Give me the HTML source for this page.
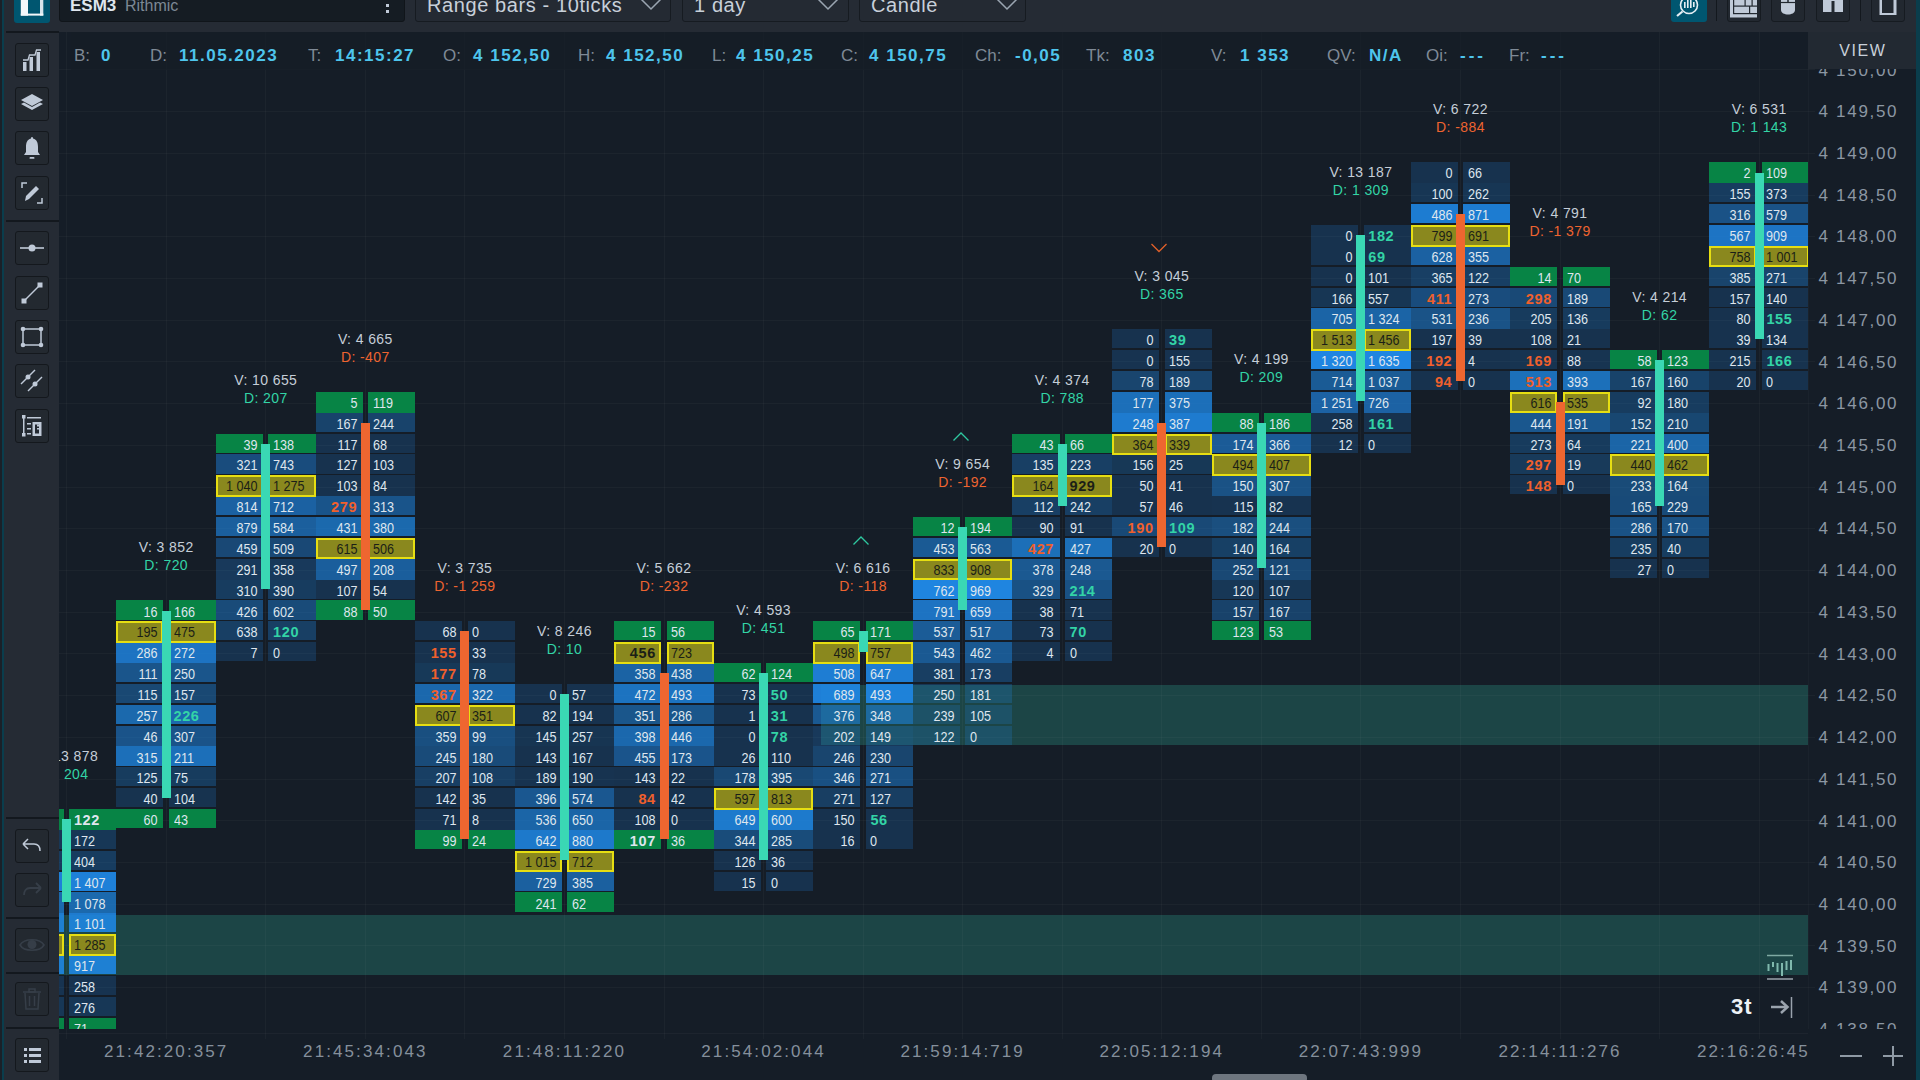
<!DOCTYPE html>
<html><head><meta charset="utf-8">
<style>
html,body{margin:0;padding:0;width:1920px;height:1080px;overflow:hidden;background:#252b34;font-family:"Liberation Sans",sans-serif;}
.abs{position:absolute}
#chart{position:absolute;left:59px;top:32px;width:1749px;height:997px;background:#151d27;overflow:hidden}
.a{position:absolute}
.tl,.tr{position:absolute;font-size:14.5px;line-height:20px;height:20px;white-space:nowrap;transform:scaleX(0.87)}
.tl{transform-origin:100% 50%}
.tr{transform-origin:0 50%}
.tl{text-align:right}
.tl.b,.tr.b{font-weight:bold;transform:none;letter-spacing:0.6px}
.hd{position:absolute;width:120px;text-align:center;font-size:14px;line-height:18px;color:#c5ced8;white-space:nowrap;letter-spacing:0.4px}
.il,.iv{position:absolute;top:45.5px;font-size:17px;line-height:20px;white-space:nowrap}
.il{color:#7f8a96}
.iv{color:#4ec5ec;font-weight:bold;letter-spacing:1.5px}
.pl{position:absolute;left:10.5px;font-size:17px;line-height:20px;color:#8c97a3;letter-spacing:1.7px;white-space:nowrap}
#paxis{position:absolute;left:1808px;top:32px;width:108px;height:997px;background:#151d27;overflow:hidden}
#taxis{position:absolute;left:59px;top:1029px;width:1749px;height:51px;background:#151d27;overflow:hidden}
.tm{position:absolute;top:12.8px;width:160px;text-align:center;font-size:17px;line-height:20px;color:#85909c;letter-spacing:2.1px;white-space:nowrap}
.btn{position:absolute;left:15px;width:34px;height:34px;box-sizing:border-box;border:1.5px solid #14181d;border-radius:3px;background:#232930}
</style></head><body>
<div class="abs" style="left:0;top:0;width:2px;height:1080px;background:#1a2028"></div>
<div class="abs" style="left:2px;top:0;width:2px;height:1080px;background:#0a3d4c"></div>
<div class="abs" style="left:1916px;top:0;width:4px;height:1080px;background:#0a3d4c"></div>
<div id="chart">
<div class="a" style="left:762.00px;top:652.80px;width:987.00px;height:60.70px;background:#1c4546"></div>
<div class="a" style="left:0.00px;top:882.50px;width:1749.00px;height:60.50px;background:#1c4546"></div>
<div class="a" style="left:7.14px;top:0.00px;width:1.00px;height:1006.00px;background:rgba(255,255,255,0.03)"></div>
<div class="a" style="left:106.70px;top:0.00px;width:1.00px;height:1006.00px;background:rgba(255,255,255,0.03)"></div>
<div class="a" style="left:206.26px;top:0.00px;width:1.00px;height:1006.00px;background:rgba(255,255,255,0.03)"></div>
<div class="a" style="left:305.82px;top:0.00px;width:1.00px;height:1006.00px;background:rgba(255,255,255,0.03)"></div>
<div class="a" style="left:405.38px;top:0.00px;width:1.00px;height:1006.00px;background:rgba(255,255,255,0.03)"></div>
<div class="a" style="left:504.94px;top:0.00px;width:1.00px;height:1006.00px;background:rgba(255,255,255,0.03)"></div>
<div class="a" style="left:604.50px;top:0.00px;width:1.00px;height:1006.00px;background:rgba(255,255,255,0.03)"></div>
<div class="a" style="left:704.06px;top:0.00px;width:1.00px;height:1006.00px;background:rgba(255,255,255,0.03)"></div>
<div class="a" style="left:803.62px;top:0.00px;width:1.00px;height:1006.00px;background:rgba(255,255,255,0.03)"></div>
<div class="a" style="left:903.18px;top:0.00px;width:1.00px;height:1006.00px;background:rgba(255,255,255,0.03)"></div>
<div class="a" style="left:1002.74px;top:0.00px;width:1.00px;height:1006.00px;background:rgba(255,255,255,0.03)"></div>
<div class="a" style="left:1102.30px;top:0.00px;width:1.00px;height:1006.00px;background:rgba(255,255,255,0.03)"></div>
<div class="a" style="left:1201.86px;top:0.00px;width:1.00px;height:1006.00px;background:rgba(255,255,255,0.03)"></div>
<div class="a" style="left:1301.42px;top:0.00px;width:1.00px;height:1006.00px;background:rgba(255,255,255,0.03)"></div>
<div class="a" style="left:1400.98px;top:0.00px;width:1.00px;height:1006.00px;background:rgba(255,255,255,0.03)"></div>
<div class="a" style="left:1500.54px;top:0.00px;width:1.00px;height:1006.00px;background:rgba(255,255,255,0.03)"></div>
<div class="a" style="left:1600.10px;top:0.00px;width:1.00px;height:1006.00px;background:rgba(255,255,255,0.03)"></div>
<div class="a" style="left:1699.66px;top:0.00px;width:1.00px;height:1006.00px;background:rgba(255,255,255,0.03)"></div>
<div class="a" style="left:0.00px;top:37.35px;width:1756.00px;height:1.00px;background:rgba(255,255,255,0.03)"></div>
<div class="a" style="left:0.00px;top:79.07px;width:1756.00px;height:1.00px;background:rgba(255,255,255,0.03)"></div>
<div class="a" style="left:0.00px;top:120.79px;width:1756.00px;height:1.00px;background:rgba(255,255,255,0.03)"></div>
<div class="a" style="left:0.00px;top:162.51px;width:1756.00px;height:1.00px;background:rgba(255,255,255,0.03)"></div>
<div class="a" style="left:0.00px;top:204.23px;width:1756.00px;height:1.00px;background:rgba(255,255,255,0.03)"></div>
<div class="a" style="left:0.00px;top:245.95px;width:1756.00px;height:1.00px;background:rgba(255,255,255,0.03)"></div>
<div class="a" style="left:0.00px;top:287.67px;width:1756.00px;height:1.00px;background:rgba(255,255,255,0.03)"></div>
<div class="a" style="left:0.00px;top:329.39px;width:1756.00px;height:1.00px;background:rgba(255,255,255,0.03)"></div>
<div class="a" style="left:0.00px;top:371.11px;width:1756.00px;height:1.00px;background:rgba(255,255,255,0.03)"></div>
<div class="a" style="left:0.00px;top:412.83px;width:1756.00px;height:1.00px;background:rgba(255,255,255,0.03)"></div>
<div class="a" style="left:0.00px;top:454.55px;width:1756.00px;height:1.00px;background:rgba(255,255,255,0.03)"></div>
<div class="a" style="left:0.00px;top:496.27px;width:1756.00px;height:1.00px;background:rgba(255,255,255,0.03)"></div>
<div class="a" style="left:0.00px;top:537.99px;width:1756.00px;height:1.00px;background:rgba(255,255,255,0.03)"></div>
<div class="a" style="left:0.00px;top:579.71px;width:1756.00px;height:1.00px;background:rgba(255,255,255,0.03)"></div>
<div class="a" style="left:0.00px;top:621.43px;width:1756.00px;height:1.00px;background:rgba(255,255,255,0.03)"></div>
<div class="a" style="left:0.00px;top:663.15px;width:1756.00px;height:1.00px;background:rgba(255,255,255,0.03)"></div>
<div class="a" style="left:0.00px;top:704.87px;width:1756.00px;height:1.00px;background:rgba(255,255,255,0.03)"></div>
<div class="a" style="left:0.00px;top:746.59px;width:1756.00px;height:1.00px;background:rgba(255,255,255,0.03)"></div>
<div class="a" style="left:0.00px;top:788.31px;width:1756.00px;height:1.00px;background:rgba(255,255,255,0.03)"></div>
<div class="a" style="left:0.00px;top:830.03px;width:1756.00px;height:1.00px;background:rgba(255,255,255,0.03)"></div>
<div class="a" style="left:0.00px;top:871.75px;width:1756.00px;height:1.00px;background:rgba(255,255,255,0.03)"></div>
<div class="a" style="left:0.00px;top:913.47px;width:1756.00px;height:1.00px;background:rgba(255,255,255,0.03)"></div>
<div class="a" style="left:0.00px;top:955.19px;width:1756.00px;height:1.00px;background:rgba(255,255,255,0.03)"></div>
<div class="a" style="left:0.00px;top:996.91px;width:1756.00px;height:1.00px;background:rgba(255,255,255,0.03)"></div>
<div class="a" style="left:12.00px;top:0.00px;width:1519.00px;height:37.60px;background:rgba(21,29,39,0.75)"></div>
<div class="a" style="left:-42.14px;top:777.01px;width:47.08px;height:20.86px;background:#078445"></div>
<div class="a" style="left:10.34px;top:777.01px;width:47.08px;height:20.86px;background:#078445"></div>
<div class="a" style="left:-42.14px;top:797.87px;width:47.08px;height:19.20px;background:rgba(31,134,226,0.250)"></div>
<div class="a" style="left:10.34px;top:797.87px;width:47.08px;height:19.20px;background:rgba(31,134,226,0.250)"></div>
<div class="a" style="left:-42.14px;top:818.73px;width:47.08px;height:19.20px;background:rgba(31,134,226,0.300)"></div>
<div class="a" style="left:10.34px;top:818.73px;width:47.08px;height:19.20px;background:rgba(31,134,226,0.300)"></div>
<div class="a" style="left:-42.14px;top:839.59px;width:47.08px;height:19.20px;background:rgba(31,134,226,0.950)"></div>
<div class="a" style="left:10.34px;top:839.59px;width:47.08px;height:19.20px;background:rgba(31,134,226,0.950)"></div>
<div class="a" style="left:-42.14px;top:860.45px;width:47.08px;height:20.86px;background:rgba(31,134,226,0.720)"></div>
<div class="a" style="left:10.34px;top:860.45px;width:47.08px;height:20.86px;background:rgba(31,134,226,0.720)"></div>
<div class="a" style="left:-42.14px;top:881.31px;width:47.08px;height:19.20px;background:rgba(31,134,226,0.900)"></div>
<div class="a" style="left:10.34px;top:881.31px;width:47.08px;height:19.20px;background:rgba(31,134,226,0.900)"></div>
<div class="a" style="left:-42.14px;top:923.03px;width:47.08px;height:19.20px;background:rgba(31,134,226,0.900)"></div>
<div class="a" style="left:10.34px;top:923.03px;width:47.08px;height:19.20px;background:rgba(31,134,226,0.900)"></div>
<div class="a" style="left:-42.14px;top:943.89px;width:47.08px;height:19.20px;background:rgba(31,134,226,0.220)"></div>
<div class="a" style="left:10.34px;top:943.89px;width:47.08px;height:19.20px;background:rgba(31,134,226,0.220)"></div>
<div class="a" style="left:-42.14px;top:964.75px;width:47.08px;height:19.20px;background:rgba(31,134,226,0.250)"></div>
<div class="a" style="left:10.34px;top:964.75px;width:47.08px;height:19.20px;background:rgba(31,134,226,0.250)"></div>
<div class="a" style="left:-42.14px;top:985.61px;width:47.08px;height:19.20px;background:#078445"></div>
<div class="a" style="left:10.34px;top:985.61px;width:47.08px;height:19.20px;background:#078445"></div>
<div class="a" style="left:-42.14px;top:902.17px;width:47.08px;height:21.60px;background:#8a881e;border:2px solid #e6de12;box-sizing:border-box"></div>
<div class="a" style="left:10.34px;top:902.17px;width:47.08px;height:21.60px;background:#8a881e;border:2px solid #e6de12;box-sizing:border-box"></div>
<div class="a" style="left:3.14px;top:787.21px;width:9.00px;height:82.84px;background:#3ad8b4"></div>
<div class="tr b" style="left:14.94px;top:778.11px;color:#dfe6ee">122</div>
<div class="tr " style="left:14.94px;top:798.97px;color:#dfe6ee">172</div>
<div class="tr " style="left:14.94px;top:819.83px;color:#dfe6ee">404</div>
<div class="tr " style="left:14.94px;top:840.69px;color:#dfe6ee">1 407</div>
<div class="tr " style="left:14.94px;top:861.55px;color:#dfe6ee">1 078</div>
<div class="tr " style="left:14.94px;top:882.41px;color:#dfe6ee">1 101</div>
<div class="tr " style="left:14.94px;top:903.27px;color:#1b1f17">1 285</div>
<div class="tr " style="left:14.94px;top:924.13px;color:#dfe6ee">917</div>
<div class="tr " style="left:14.94px;top:944.99px;color:#dfe6ee">258</div>
<div class="tr " style="left:14.94px;top:965.85px;color:#dfe6ee">276</div>
<div class="tr " style="left:14.94px;top:986.71px;color:#dfe6ee">71</div>
<div class="hd" style="left:-52.36px;top:714.81px">V: 13 878</div>
<div class="hd" style="left:-52.36px;top:732.81px;color:#33d4a6">D: 204</div>
<div class="a" style="left:57.42px;top:568.41px;width:47.08px;height:19.20px;background:#078445"></div>
<div class="a" style="left:109.90px;top:568.41px;width:47.08px;height:19.20px;background:#078445"></div>
<div class="a" style="left:57.42px;top:610.13px;width:47.08px;height:20.86px;background:rgba(31,134,226,0.833)"></div>
<div class="a" style="left:109.90px;top:610.13px;width:47.08px;height:20.86px;background:rgba(31,134,226,0.833)"></div>
<div class="a" style="left:57.42px;top:630.99px;width:47.08px;height:19.20px;background:rgba(31,134,226,0.539)"></div>
<div class="a" style="left:109.90px;top:630.99px;width:47.08px;height:19.20px;background:rgba(31,134,226,0.539)"></div>
<div class="a" style="left:57.42px;top:651.85px;width:47.08px;height:19.20px;background:rgba(31,134,226,0.406)"></div>
<div class="a" style="left:109.90px;top:651.85px;width:47.08px;height:19.20px;background:rgba(31,134,226,0.406)"></div>
<div class="a" style="left:57.42px;top:672.71px;width:47.08px;height:19.20px;background:rgba(31,134,226,0.721)"></div>
<div class="a" style="left:109.90px;top:672.71px;width:47.08px;height:19.20px;background:rgba(31,134,226,0.721)"></div>
<div class="a" style="left:57.42px;top:693.57px;width:47.08px;height:20.86px;background:rgba(31,134,226,0.527)"></div>
<div class="a" style="left:109.90px;top:693.57px;width:47.08px;height:20.86px;background:rgba(31,134,226,0.527)"></div>
<div class="a" style="left:57.42px;top:714.43px;width:47.08px;height:19.20px;background:rgba(31,134,226,0.785)"></div>
<div class="a" style="left:109.90px;top:714.43px;width:47.08px;height:19.20px;background:rgba(31,134,226,0.785)"></div>
<div class="a" style="left:57.42px;top:735.29px;width:47.08px;height:19.20px;background:rgba(31,134,226,0.299)"></div>
<div class="a" style="left:109.90px;top:735.29px;width:47.08px;height:19.20px;background:rgba(31,134,226,0.299)"></div>
<div class="a" style="left:57.42px;top:756.15px;width:47.08px;height:19.20px;background:rgba(31,134,226,0.215)"></div>
<div class="a" style="left:109.90px;top:756.15px;width:47.08px;height:19.20px;background:rgba(31,134,226,0.215)"></div>
<div class="a" style="left:57.42px;top:777.01px;width:47.08px;height:19.20px;background:#078445"></div>
<div class="a" style="left:109.90px;top:777.01px;width:47.08px;height:19.20px;background:#078445"></div>
<div class="a" style="left:57.42px;top:589.27px;width:47.08px;height:21.60px;background:#8a881e;border:2px solid #e6de12;box-sizing:border-box"></div>
<div class="a" style="left:109.90px;top:589.27px;width:47.08px;height:21.60px;background:#8a881e;border:2px solid #e6de12;box-sizing:border-box"></div>
<div class="a" style="left:102.70px;top:578.61px;width:9.00px;height:187.14px;background:#3ad8b4"></div>
<div class="tl " style="left:57.42px;width:41.58px;top:569.51px;color:#dfe6ee">16</div>
<div class="tr " style="left:114.50px;top:569.51px;color:#dfe6ee">166</div>
<div class="tl " style="left:57.42px;width:41.58px;top:590.37px;color:#1b1f17">195</div>
<div class="tr " style="left:114.50px;top:590.37px;color:#1b1f17">475</div>
<div class="tl " style="left:57.42px;width:41.58px;top:611.23px;color:#dfe6ee">286</div>
<div class="tr " style="left:114.50px;top:611.23px;color:#dfe6ee">272</div>
<div class="tl " style="left:57.42px;width:41.58px;top:632.09px;color:#dfe6ee">111</div>
<div class="tr " style="left:114.50px;top:632.09px;color:#dfe6ee">250</div>
<div class="tl " style="left:57.42px;width:41.58px;top:652.95px;color:#dfe6ee">115</div>
<div class="tr " style="left:114.50px;top:652.95px;color:#dfe6ee">157</div>
<div class="tl " style="left:57.42px;width:41.58px;top:673.81px;color:#dfe6ee">257</div>
<div class="tr b" style="left:114.50px;top:673.81px;color:#33d4a6">226</div>
<div class="tl " style="left:57.42px;width:41.58px;top:694.67px;color:#dfe6ee">46</div>
<div class="tr " style="left:114.50px;top:694.67px;color:#dfe6ee">307</div>
<div class="tl " style="left:57.42px;width:41.58px;top:715.53px;color:#dfe6ee">315</div>
<div class="tr " style="left:114.50px;top:715.53px;color:#dfe6ee">211</div>
<div class="tl " style="left:57.42px;width:41.58px;top:736.39px;color:#dfe6ee">125</div>
<div class="tr " style="left:114.50px;top:736.39px;color:#dfe6ee">75</div>
<div class="tl " style="left:57.42px;width:41.58px;top:757.25px;color:#dfe6ee">40</div>
<div class="tr " style="left:114.50px;top:757.25px;color:#dfe6ee">104</div>
<div class="tl " style="left:57.42px;width:41.58px;top:778.11px;color:#dfe6ee">60</div>
<div class="tr " style="left:114.50px;top:778.11px;color:#dfe6ee">43</div>
<div class="hd" style="left:47.20px;top:506.21px">V: 3 852</div>
<div class="hd" style="left:47.20px;top:524.21px;color:#33d4a6">D: 720</div>
<div class="a" style="left:156.98px;top:401.53px;width:47.08px;height:19.20px;background:#078445"></div>
<div class="a" style="left:209.46px;top:401.53px;width:47.08px;height:19.20px;background:#078445"></div>
<div class="a" style="left:156.98px;top:422.39px;width:47.08px;height:19.20px;background:rgba(31,134,226,0.460)"></div>
<div class="a" style="left:209.46px;top:422.39px;width:47.08px;height:19.20px;background:rgba(31,134,226,0.460)"></div>
<div class="a" style="left:156.98px;top:464.11px;width:47.08px;height:19.20px;background:rgba(31,134,226,0.659)"></div>
<div class="a" style="left:209.46px;top:464.11px;width:47.08px;height:19.20px;background:rgba(31,134,226,0.659)"></div>
<div class="a" style="left:156.98px;top:484.97px;width:47.08px;height:19.20px;background:rgba(31,134,226,0.632)"></div>
<div class="a" style="left:209.46px;top:484.97px;width:47.08px;height:19.20px;background:rgba(31,134,226,0.632)"></div>
<div class="a" style="left:156.98px;top:505.83px;width:47.08px;height:19.20px;background:rgba(31,134,226,0.418)"></div>
<div class="a" style="left:209.46px;top:505.83px;width:47.08px;height:19.20px;background:rgba(31,134,226,0.418)"></div>
<div class="a" style="left:156.98px;top:526.69px;width:47.08px;height:20.86px;background:rgba(31,134,226,0.280)"></div>
<div class="a" style="left:209.46px;top:526.69px;width:47.08px;height:20.86px;background:rgba(31,134,226,0.280)"></div>
<div class="a" style="left:156.98px;top:547.55px;width:47.08px;height:19.20px;background:rgba(31,134,226,0.302)"></div>
<div class="a" style="left:209.46px;top:547.55px;width:47.08px;height:19.20px;background:rgba(31,134,226,0.302)"></div>
<div class="a" style="left:156.98px;top:568.41px;width:47.08px;height:19.20px;background:rgba(31,134,226,0.444)"></div>
<div class="a" style="left:209.46px;top:568.41px;width:47.08px;height:19.20px;background:rgba(31,134,226,0.444)"></div>
<div class="a" style="left:156.98px;top:589.27px;width:47.08px;height:19.20px;background:rgba(31,134,226,0.327)"></div>
<div class="a" style="left:209.46px;top:589.27px;width:47.08px;height:19.20px;background:rgba(31,134,226,0.327)"></div>
<div class="a" style="left:156.98px;top:610.13px;width:47.08px;height:19.20px;background:rgba(31,134,226,0.210)"></div>
<div class="a" style="left:209.46px;top:610.13px;width:47.08px;height:19.20px;background:rgba(31,134,226,0.210)"></div>
<div class="a" style="left:156.98px;top:443.25px;width:47.08px;height:21.60px;background:#8a881e;border:2px solid #e6de12;box-sizing:border-box"></div>
<div class="a" style="left:209.46px;top:443.25px;width:47.08px;height:21.60px;background:#8a881e;border:2px solid #e6de12;box-sizing:border-box"></div>
<div class="a" style="left:202.26px;top:411.73px;width:9.00px;height:145.42px;background:#3ad8b4"></div>
<div class="tl " style="left:156.98px;width:41.58px;top:402.63px;color:#dfe6ee">39</div>
<div class="tr " style="left:214.06px;top:402.63px;color:#dfe6ee">138</div>
<div class="tl " style="left:156.98px;width:41.58px;top:423.49px;color:#dfe6ee">321</div>
<div class="tr " style="left:214.06px;top:423.49px;color:#dfe6ee">743</div>
<div class="tl " style="left:156.98px;width:41.58px;top:444.35px;color:#1b1f17">1 040</div>
<div class="tr " style="left:214.06px;top:444.35px;color:#1b1f17">1 275</div>
<div class="tl " style="left:156.98px;width:41.58px;top:465.21px;color:#dfe6ee">814</div>
<div class="tr " style="left:214.06px;top:465.21px;color:#dfe6ee">712</div>
<div class="tl " style="left:156.98px;width:41.58px;top:486.07px;color:#dfe6ee">879</div>
<div class="tr " style="left:214.06px;top:486.07px;color:#dfe6ee">584</div>
<div class="tl " style="left:156.98px;width:41.58px;top:506.93px;color:#dfe6ee">459</div>
<div class="tr " style="left:214.06px;top:506.93px;color:#dfe6ee">509</div>
<div class="tl " style="left:156.98px;width:41.58px;top:527.79px;color:#dfe6ee">291</div>
<div class="tr " style="left:214.06px;top:527.79px;color:#dfe6ee">358</div>
<div class="tl " style="left:156.98px;width:41.58px;top:548.65px;color:#dfe6ee">310</div>
<div class="tr " style="left:214.06px;top:548.65px;color:#dfe6ee">390</div>
<div class="tl " style="left:156.98px;width:41.58px;top:569.51px;color:#dfe6ee">426</div>
<div class="tr " style="left:214.06px;top:569.51px;color:#dfe6ee">602</div>
<div class="tl " style="left:156.98px;width:41.58px;top:590.37px;color:#dfe6ee">638</div>
<div class="tr b" style="left:214.06px;top:590.37px;color:#33d4a6">120</div>
<div class="tl " style="left:156.98px;width:41.58px;top:611.23px;color:#dfe6ee">7</div>
<div class="tr " style="left:214.06px;top:611.23px;color:#dfe6ee">0</div>
<div class="hd" style="left:146.76px;top:339.33px">V: 10 655</div>
<div class="hd" style="left:146.76px;top:357.33px;color:#33d4a6">D: 207</div>
<div class="a" style="left:256.54px;top:359.81px;width:47.08px;height:20.86px;background:#078445"></div>
<div class="a" style="left:309.02px;top:359.81px;width:47.08px;height:20.86px;background:#078445"></div>
<div class="a" style="left:256.54px;top:380.67px;width:47.08px;height:19.20px;background:rgba(31,134,226,0.367)"></div>
<div class="a" style="left:309.02px;top:380.67px;width:47.08px;height:19.20px;background:rgba(31,134,226,0.367)"></div>
<div class="a" style="left:256.54px;top:401.53px;width:47.08px;height:19.20px;background:rgba(31,134,226,0.210)"></div>
<div class="a" style="left:309.02px;top:401.53px;width:47.08px;height:19.20px;background:rgba(31,134,226,0.210)"></div>
<div class="a" style="left:256.54px;top:422.39px;width:47.08px;height:19.20px;background:rgba(31,134,226,0.210)"></div>
<div class="a" style="left:309.02px;top:422.39px;width:47.08px;height:19.20px;background:rgba(31,134,226,0.210)"></div>
<div class="a" style="left:256.54px;top:443.25px;width:47.08px;height:20.86px;background:rgba(31,134,226,0.210)"></div>
<div class="a" style="left:309.02px;top:443.25px;width:47.08px;height:20.86px;background:rgba(31,134,226,0.210)"></div>
<div class="a" style="left:256.54px;top:464.11px;width:47.08px;height:19.20px;background:rgba(31,134,226,0.528)"></div>
<div class="a" style="left:309.02px;top:464.11px;width:47.08px;height:19.20px;background:rgba(31,134,226,0.528)"></div>
<div class="a" style="left:256.54px;top:484.97px;width:47.08px;height:19.20px;background:rgba(31,134,226,0.723)"></div>
<div class="a" style="left:309.02px;top:484.97px;width:47.08px;height:19.20px;background:rgba(31,134,226,0.723)"></div>
<div class="a" style="left:256.54px;top:526.69px;width:47.08px;height:20.86px;background:rgba(31,134,226,0.629)"></div>
<div class="a" style="left:309.02px;top:526.69px;width:47.08px;height:20.86px;background:rgba(31,134,226,0.629)"></div>
<div class="a" style="left:256.54px;top:547.55px;width:47.08px;height:19.20px;background:rgba(31,134,226,0.210)"></div>
<div class="a" style="left:309.02px;top:547.55px;width:47.08px;height:19.20px;background:rgba(31,134,226,0.210)"></div>
<div class="a" style="left:256.54px;top:568.41px;width:47.08px;height:19.20px;background:#078445"></div>
<div class="a" style="left:309.02px;top:568.41px;width:47.08px;height:19.20px;background:#078445"></div>
<div class="a" style="left:256.54px;top:505.83px;width:47.08px;height:21.60px;background:#8a881e;border:2px solid #e6de12;box-sizing:border-box"></div>
<div class="a" style="left:309.02px;top:505.83px;width:47.08px;height:21.60px;background:#8a881e;border:2px solid #e6de12;box-sizing:border-box"></div>
<div class="a" style="left:301.82px;top:390.87px;width:9.00px;height:187.14px;background:#ee6630"></div>
<div class="tl " style="left:256.54px;width:41.58px;top:360.91px;color:#dfe6ee">5</div>
<div class="tr " style="left:313.62px;top:360.91px;color:#dfe6ee">119</div>
<div class="tl " style="left:256.54px;width:41.58px;top:381.77px;color:#dfe6ee">167</div>
<div class="tr " style="left:313.62px;top:381.77px;color:#dfe6ee">244</div>
<div class="tl " style="left:256.54px;width:41.58px;top:402.63px;color:#dfe6ee">117</div>
<div class="tr " style="left:313.62px;top:402.63px;color:#dfe6ee">68</div>
<div class="tl " style="left:256.54px;width:41.58px;top:423.49px;color:#dfe6ee">127</div>
<div class="tr " style="left:313.62px;top:423.49px;color:#dfe6ee">103</div>
<div class="tl " style="left:256.54px;width:41.58px;top:444.35px;color:#dfe6ee">103</div>
<div class="tr " style="left:313.62px;top:444.35px;color:#dfe6ee">84</div>
<div class="tl b" style="left:256.54px;width:41.58px;top:465.21px;color:#f0602c">279</div>
<div class="tr " style="left:313.62px;top:465.21px;color:#dfe6ee">313</div>
<div class="tl " style="left:256.54px;width:41.58px;top:486.07px;color:#dfe6ee">431</div>
<div class="tr " style="left:313.62px;top:486.07px;color:#dfe6ee">380</div>
<div class="tl " style="left:256.54px;width:41.58px;top:506.93px;color:#1b1f17">615</div>
<div class="tr " style="left:313.62px;top:506.93px;color:#1b1f17">506</div>
<div class="tl " style="left:256.54px;width:41.58px;top:527.79px;color:#dfe6ee">497</div>
<div class="tr " style="left:313.62px;top:527.79px;color:#dfe6ee">208</div>
<div class="tl " style="left:256.54px;width:41.58px;top:548.65px;color:#dfe6ee">107</div>
<div class="tr " style="left:313.62px;top:548.65px;color:#dfe6ee">54</div>
<div class="tl " style="left:256.54px;width:41.58px;top:569.51px;color:#dfe6ee">88</div>
<div class="tr " style="left:313.62px;top:569.51px;color:#dfe6ee">50</div>
<div class="hd" style="left:246.32px;top:297.61px">V: 4 665</div>
<div class="hd" style="left:246.32px;top:315.61px;color:#ee6430">D: -407</div>
<div class="a" style="left:356.10px;top:589.27px;width:47.08px;height:19.20px;background:rgba(31,134,226,0.210)"></div>
<div class="a" style="left:408.58px;top:589.27px;width:47.08px;height:19.20px;background:rgba(31,134,226,0.210)"></div>
<div class="a" style="left:356.10px;top:610.13px;width:47.08px;height:20.86px;background:rgba(31,134,226,0.210)"></div>
<div class="a" style="left:408.58px;top:610.13px;width:47.08px;height:20.86px;background:rgba(31,134,226,0.210)"></div>
<div class="a" style="left:356.10px;top:630.99px;width:47.08px;height:19.20px;background:rgba(31,134,226,0.266)"></div>
<div class="a" style="left:408.58px;top:630.99px;width:47.08px;height:19.20px;background:rgba(31,134,226,0.266)"></div>
<div class="a" style="left:356.10px;top:651.85px;width:47.08px;height:19.20px;background:rgba(31,134,226,0.719)"></div>
<div class="a" style="left:408.58px;top:651.85px;width:47.08px;height:19.20px;background:rgba(31,134,226,0.719)"></div>
<div class="a" style="left:356.10px;top:693.57px;width:47.08px;height:20.86px;background:rgba(31,134,226,0.478)"></div>
<div class="a" style="left:408.58px;top:693.57px;width:47.08px;height:20.86px;background:rgba(31,134,226,0.478)"></div>
<div class="a" style="left:356.10px;top:714.43px;width:47.08px;height:19.20px;background:rgba(31,134,226,0.444)"></div>
<div class="a" style="left:408.58px;top:714.43px;width:47.08px;height:19.20px;background:rgba(31,134,226,0.444)"></div>
<div class="a" style="left:356.10px;top:735.29px;width:47.08px;height:19.20px;background:rgba(31,134,226,0.329)"></div>
<div class="a" style="left:408.58px;top:735.29px;width:47.08px;height:19.20px;background:rgba(31,134,226,0.329)"></div>
<div class="a" style="left:356.10px;top:756.15px;width:47.08px;height:19.20px;background:rgba(31,134,226,0.210)"></div>
<div class="a" style="left:408.58px;top:756.15px;width:47.08px;height:19.20px;background:rgba(31,134,226,0.210)"></div>
<div class="a" style="left:356.10px;top:777.01px;width:47.08px;height:20.86px;background:rgba(31,134,226,0.210)"></div>
<div class="a" style="left:408.58px;top:777.01px;width:47.08px;height:20.86px;background:rgba(31,134,226,0.210)"></div>
<div class="a" style="left:356.10px;top:797.87px;width:47.08px;height:19.20px;background:#078445"></div>
<div class="a" style="left:408.58px;top:797.87px;width:47.08px;height:19.20px;background:#078445"></div>
<div class="a" style="left:356.10px;top:672.71px;width:47.08px;height:21.60px;background:#8a881e;border:2px solid #e6de12;box-sizing:border-box"></div>
<div class="a" style="left:408.58px;top:672.71px;width:47.08px;height:21.60px;background:#8a881e;border:2px solid #e6de12;box-sizing:border-box"></div>
<div class="a" style="left:401.38px;top:599.47px;width:9.00px;height:208.00px;background:#ee6630"></div>
<div class="tl " style="left:356.10px;width:41.58px;top:590.37px;color:#dfe6ee">68</div>
<div class="tr " style="left:413.18px;top:590.37px;color:#dfe6ee">0</div>
<div class="tl b" style="left:356.10px;width:41.58px;top:611.23px;color:#f0602c">155</div>
<div class="tr " style="left:413.18px;top:611.23px;color:#dfe6ee">33</div>
<div class="tl b" style="left:356.10px;width:41.58px;top:632.09px;color:#f0602c">177</div>
<div class="tr " style="left:413.18px;top:632.09px;color:#dfe6ee">78</div>
<div class="tl b" style="left:356.10px;width:41.58px;top:652.95px;color:#f0602c">367</div>
<div class="tr " style="left:413.18px;top:652.95px;color:#dfe6ee">322</div>
<div class="tl " style="left:356.10px;width:41.58px;top:673.81px;color:#1b1f17">607</div>
<div class="tr " style="left:413.18px;top:673.81px;color:#1b1f17">351</div>
<div class="tl " style="left:356.10px;width:41.58px;top:694.67px;color:#dfe6ee">359</div>
<div class="tr " style="left:413.18px;top:694.67px;color:#dfe6ee">99</div>
<div class="tl " style="left:356.10px;width:41.58px;top:715.53px;color:#dfe6ee">245</div>
<div class="tr " style="left:413.18px;top:715.53px;color:#dfe6ee">180</div>
<div class="tl " style="left:356.10px;width:41.58px;top:736.39px;color:#dfe6ee">207</div>
<div class="tr " style="left:413.18px;top:736.39px;color:#dfe6ee">108</div>
<div class="tl " style="left:356.10px;width:41.58px;top:757.25px;color:#dfe6ee">142</div>
<div class="tr " style="left:413.18px;top:757.25px;color:#dfe6ee">35</div>
<div class="tl " style="left:356.10px;width:41.58px;top:778.11px;color:#dfe6ee">71</div>
<div class="tr " style="left:413.18px;top:778.11px;color:#dfe6ee">8</div>
<div class="tl " style="left:356.10px;width:41.58px;top:798.97px;color:#dfe6ee">99</div>
<div class="tr " style="left:413.18px;top:798.97px;color:#dfe6ee">24</div>
<div class="hd" style="left:345.88px;top:527.07px">V: 3 735</div>
<div class="hd" style="left:345.88px;top:545.07px;color:#ee6430">D: -1 259</div>
<div class="a" style="left:455.66px;top:651.85px;width:47.08px;height:19.20px;background:rgba(31,134,226,0.210)"></div>
<div class="a" style="left:508.14px;top:651.85px;width:47.08px;height:19.20px;background:rgba(31,134,226,0.210)"></div>
<div class="a" style="left:455.66px;top:672.71px;width:47.08px;height:19.20px;background:rgba(31,134,226,0.210)"></div>
<div class="a" style="left:508.14px;top:672.71px;width:47.08px;height:19.20px;background:rgba(31,134,226,0.210)"></div>
<div class="a" style="left:455.66px;top:693.57px;width:47.08px;height:20.86px;background:rgba(31,134,226,0.233)"></div>
<div class="a" style="left:508.14px;top:693.57px;width:47.08px;height:20.86px;background:rgba(31,134,226,0.233)"></div>
<div class="a" style="left:455.66px;top:714.43px;width:47.08px;height:19.20px;background:rgba(31,134,226,0.210)"></div>
<div class="a" style="left:508.14px;top:714.43px;width:47.08px;height:19.20px;background:rgba(31,134,226,0.210)"></div>
<div class="a" style="left:455.66px;top:735.29px;width:47.08px;height:19.20px;background:rgba(31,134,226,0.219)"></div>
<div class="a" style="left:508.14px;top:735.29px;width:47.08px;height:19.20px;background:rgba(31,134,226,0.219)"></div>
<div class="a" style="left:455.66px;top:756.15px;width:47.08px;height:19.20px;background:rgba(31,134,226,0.562)"></div>
<div class="a" style="left:508.14px;top:756.15px;width:47.08px;height:19.20px;background:rgba(31,134,226,0.562)"></div>
<div class="a" style="left:455.66px;top:777.01px;width:47.08px;height:20.86px;background:rgba(31,134,226,0.687)"></div>
<div class="a" style="left:508.14px;top:777.01px;width:47.08px;height:20.86px;background:rgba(31,134,226,0.687)"></div>
<div class="a" style="left:455.66px;top:797.87px;width:47.08px;height:19.20px;background:rgba(31,134,226,0.881)"></div>
<div class="a" style="left:508.14px;top:797.87px;width:47.08px;height:19.20px;background:rgba(31,134,226,0.881)"></div>
<div class="a" style="left:455.66px;top:839.59px;width:47.08px;height:19.20px;background:rgba(31,134,226,0.645)"></div>
<div class="a" style="left:508.14px;top:839.59px;width:47.08px;height:19.20px;background:rgba(31,134,226,0.645)"></div>
<div class="a" style="left:455.66px;top:860.45px;width:47.08px;height:19.20px;background:#078445"></div>
<div class="a" style="left:508.14px;top:860.45px;width:47.08px;height:19.20px;background:#078445"></div>
<div class="a" style="left:455.66px;top:818.73px;width:47.08px;height:21.60px;background:#8a881e;border:2px solid #e6de12;box-sizing:border-box"></div>
<div class="a" style="left:508.14px;top:818.73px;width:47.08px;height:21.60px;background:#8a881e;border:2px solid #e6de12;box-sizing:border-box"></div>
<div class="a" style="left:500.94px;top:662.05px;width:9.00px;height:166.28px;background:#3ad8b4"></div>
<div class="tl " style="left:455.66px;width:41.58px;top:652.95px;color:#dfe6ee">0</div>
<div class="tr " style="left:512.74px;top:652.95px;color:#dfe6ee">57</div>
<div class="tl " style="left:455.66px;width:41.58px;top:673.81px;color:#dfe6ee">82</div>
<div class="tr " style="left:512.74px;top:673.81px;color:#dfe6ee">194</div>
<div class="tl " style="left:455.66px;width:41.58px;top:694.67px;color:#dfe6ee">145</div>
<div class="tr " style="left:512.74px;top:694.67px;color:#dfe6ee">257</div>
<div class="tl " style="left:455.66px;width:41.58px;top:715.53px;color:#dfe6ee">143</div>
<div class="tr " style="left:512.74px;top:715.53px;color:#dfe6ee">167</div>
<div class="tl " style="left:455.66px;width:41.58px;top:736.39px;color:#dfe6ee">189</div>
<div class="tr " style="left:512.74px;top:736.39px;color:#dfe6ee">190</div>
<div class="tl " style="left:455.66px;width:41.58px;top:757.25px;color:#dfe6ee">396</div>
<div class="tr " style="left:512.74px;top:757.25px;color:#dfe6ee">574</div>
<div class="tl " style="left:455.66px;width:41.58px;top:778.11px;color:#dfe6ee">536</div>
<div class="tr " style="left:512.74px;top:778.11px;color:#dfe6ee">650</div>
<div class="tl " style="left:455.66px;width:41.58px;top:798.97px;color:#dfe6ee">642</div>
<div class="tr " style="left:512.74px;top:798.97px;color:#dfe6ee">880</div>
<div class="tl " style="left:455.66px;width:41.58px;top:819.83px;color:#1b1f17">1 015</div>
<div class="tr " style="left:512.74px;top:819.83px;color:#1b1f17">712</div>
<div class="tl " style="left:455.66px;width:41.58px;top:840.69px;color:#dfe6ee">729</div>
<div class="tr " style="left:512.74px;top:840.69px;color:#dfe6ee">385</div>
<div class="tl " style="left:455.66px;width:41.58px;top:861.55px;color:#dfe6ee">241</div>
<div class="tr " style="left:512.74px;top:861.55px;color:#dfe6ee">62</div>
<div class="hd" style="left:445.44px;top:589.65px">V: 8 246</div>
<div class="hd" style="left:445.44px;top:607.65px;color:#33d4a6">D: 10</div>
<div class="a" style="left:555.22px;top:589.27px;width:47.08px;height:19.20px;background:#078445"></div>
<div class="a" style="left:607.70px;top:589.27px;width:47.08px;height:19.20px;background:#078445"></div>
<div class="a" style="left:555.22px;top:630.99px;width:47.08px;height:19.20px;background:rgba(31,134,226,0.675)"></div>
<div class="a" style="left:607.70px;top:630.99px;width:47.08px;height:19.20px;background:rgba(31,134,226,0.675)"></div>
<div class="a" style="left:555.22px;top:651.85px;width:47.08px;height:19.20px;background:rgba(31,134,226,0.818)"></div>
<div class="a" style="left:607.70px;top:651.85px;width:47.08px;height:19.20px;background:rgba(31,134,226,0.818)"></div>
<div class="a" style="left:555.22px;top:672.71px;width:47.08px;height:19.20px;background:rgba(31,134,226,0.540)"></div>
<div class="a" style="left:607.70px;top:672.71px;width:47.08px;height:19.20px;background:rgba(31,134,226,0.540)"></div>
<div class="a" style="left:555.22px;top:693.57px;width:47.08px;height:20.86px;background:rgba(31,134,226,0.716)"></div>
<div class="a" style="left:607.70px;top:693.57px;width:47.08px;height:20.86px;background:rgba(31,134,226,0.716)"></div>
<div class="a" style="left:555.22px;top:714.43px;width:47.08px;height:19.20px;background:rgba(31,134,226,0.533)"></div>
<div class="a" style="left:607.70px;top:714.43px;width:47.08px;height:19.20px;background:rgba(31,134,226,0.533)"></div>
<div class="a" style="left:555.22px;top:735.29px;width:47.08px;height:19.20px;background:rgba(31,134,226,0.210)"></div>
<div class="a" style="left:607.70px;top:735.29px;width:47.08px;height:19.20px;background:rgba(31,134,226,0.210)"></div>
<div class="a" style="left:555.22px;top:756.15px;width:47.08px;height:19.20px;background:rgba(31,134,226,0.210)"></div>
<div class="a" style="left:607.70px;top:756.15px;width:47.08px;height:19.20px;background:rgba(31,134,226,0.210)"></div>
<div class="a" style="left:555.22px;top:777.01px;width:47.08px;height:20.86px;background:rgba(31,134,226,0.210)"></div>
<div class="a" style="left:607.70px;top:777.01px;width:47.08px;height:20.86px;background:rgba(31,134,226,0.210)"></div>
<div class="a" style="left:555.22px;top:797.87px;width:47.08px;height:19.20px;background:#078445"></div>
<div class="a" style="left:607.70px;top:797.87px;width:47.08px;height:19.20px;background:#078445"></div>
<div class="a" style="left:555.22px;top:610.13px;width:47.08px;height:21.60px;background:#8a881e;border:2px solid #e6de12;box-sizing:border-box"></div>
<div class="a" style="left:607.70px;top:610.13px;width:47.08px;height:21.60px;background:#8a881e;border:2px solid #e6de12;box-sizing:border-box"></div>
<div class="a" style="left:600.50px;top:641.19px;width:9.00px;height:166.28px;background:#ee6630"></div>
<div class="tl " style="left:555.22px;width:41.58px;top:590.37px;color:#dfe6ee">15</div>
<div class="tr " style="left:612.30px;top:590.37px;color:#dfe6ee">56</div>
<div class="tl b" style="left:555.22px;width:41.58px;top:611.23px;color:#1b1f17">456</div>
<div class="tr " style="left:612.30px;top:611.23px;color:#1b1f17">723</div>
<div class="tl " style="left:555.22px;width:41.58px;top:632.09px;color:#dfe6ee">358</div>
<div class="tr " style="left:612.30px;top:632.09px;color:#dfe6ee">438</div>
<div class="tl " style="left:555.22px;width:41.58px;top:652.95px;color:#dfe6ee">472</div>
<div class="tr " style="left:612.30px;top:652.95px;color:#dfe6ee">493</div>
<div class="tl " style="left:555.22px;width:41.58px;top:673.81px;color:#dfe6ee">351</div>
<div class="tr " style="left:612.30px;top:673.81px;color:#dfe6ee">286</div>
<div class="tl " style="left:555.22px;width:41.58px;top:694.67px;color:#dfe6ee">398</div>
<div class="tr " style="left:612.30px;top:694.67px;color:#dfe6ee">446</div>
<div class="tl " style="left:555.22px;width:41.58px;top:715.53px;color:#dfe6ee">455</div>
<div class="tr " style="left:612.30px;top:715.53px;color:#dfe6ee">173</div>
<div class="tl " style="left:555.22px;width:41.58px;top:736.39px;color:#dfe6ee">143</div>
<div class="tr " style="left:612.30px;top:736.39px;color:#dfe6ee">22</div>
<div class="tl b" style="left:555.22px;width:41.58px;top:757.25px;color:#f0602c">84</div>
<div class="tr " style="left:612.30px;top:757.25px;color:#dfe6ee">42</div>
<div class="tl " style="left:555.22px;width:41.58px;top:778.11px;color:#dfe6ee">108</div>
<div class="tr " style="left:612.30px;top:778.11px;color:#dfe6ee">0</div>
<div class="tl b" style="left:555.22px;width:41.58px;top:798.97px;color:#dfe6ee">107</div>
<div class="tr " style="left:612.30px;top:798.97px;color:#dfe6ee">36</div>
<div class="hd" style="left:545.00px;top:527.07px">V: 5 662</div>
<div class="hd" style="left:545.00px;top:545.07px;color:#ee6430">D: -232</div>
<div class="a" style="left:654.78px;top:630.99px;width:47.08px;height:19.20px;background:#078445"></div>
<div class="a" style="left:707.26px;top:630.99px;width:47.08px;height:19.20px;background:#078445"></div>
<div class="a" style="left:654.78px;top:651.85px;width:47.08px;height:19.20px;background:rgba(31,134,226,0.210)"></div>
<div class="a" style="left:707.26px;top:651.85px;width:47.08px;height:19.20px;background:rgba(31,134,226,0.210)"></div>
<div class="a" style="left:654.78px;top:672.71px;width:47.08px;height:19.20px;background:rgba(31,134,226,0.210)"></div>
<div class="a" style="left:707.26px;top:672.71px;width:47.08px;height:19.20px;background:rgba(31,134,226,0.210)"></div>
<div class="a" style="left:654.78px;top:693.57px;width:47.08px;height:20.86px;background:rgba(31,134,226,0.210)"></div>
<div class="a" style="left:707.26px;top:693.57px;width:47.08px;height:20.86px;background:rgba(31,134,226,0.210)"></div>
<div class="a" style="left:654.78px;top:714.43px;width:47.08px;height:19.20px;background:rgba(31,134,226,0.210)"></div>
<div class="a" style="left:707.26px;top:714.43px;width:47.08px;height:19.20px;background:rgba(31,134,226,0.210)"></div>
<div class="a" style="left:654.78px;top:735.29px;width:47.08px;height:19.20px;background:rgba(31,134,226,0.406)"></div>
<div class="a" style="left:707.26px;top:735.29px;width:47.08px;height:19.20px;background:rgba(31,134,226,0.406)"></div>
<div class="a" style="left:654.78px;top:777.01px;width:47.08px;height:20.86px;background:rgba(31,134,226,0.886)"></div>
<div class="a" style="left:707.26px;top:777.01px;width:47.08px;height:20.86px;background:rgba(31,134,226,0.886)"></div>
<div class="a" style="left:654.78px;top:797.87px;width:47.08px;height:19.20px;background:rgba(31,134,226,0.446)"></div>
<div class="a" style="left:707.26px;top:797.87px;width:47.08px;height:19.20px;background:rgba(31,134,226,0.446)"></div>
<div class="a" style="left:654.78px;top:818.73px;width:47.08px;height:19.20px;background:rgba(31,134,226,0.210)"></div>
<div class="a" style="left:707.26px;top:818.73px;width:47.08px;height:19.20px;background:rgba(31,134,226,0.210)"></div>
<div class="a" style="left:654.78px;top:839.59px;width:47.08px;height:19.20px;background:rgba(31,134,226,0.210)"></div>
<div class="a" style="left:707.26px;top:839.59px;width:47.08px;height:19.20px;background:rgba(31,134,226,0.210)"></div>
<div class="a" style="left:654.78px;top:756.15px;width:47.08px;height:21.60px;background:#8a881e;border:2px solid #e6de12;box-sizing:border-box"></div>
<div class="a" style="left:707.26px;top:756.15px;width:47.08px;height:21.60px;background:#8a881e;border:2px solid #e6de12;box-sizing:border-box"></div>
<div class="a" style="left:700.06px;top:641.19px;width:9.00px;height:187.14px;background:#3ad8b4"></div>
<div class="tl " style="left:654.78px;width:41.58px;top:632.09px;color:#dfe6ee">62</div>
<div class="tr " style="left:711.86px;top:632.09px;color:#dfe6ee">124</div>
<div class="tl " style="left:654.78px;width:41.58px;top:652.95px;color:#dfe6ee">73</div>
<div class="tr b" style="left:711.86px;top:652.95px;color:#33d4a6">50</div>
<div class="tl " style="left:654.78px;width:41.58px;top:673.81px;color:#dfe6ee">1</div>
<div class="tr b" style="left:711.86px;top:673.81px;color:#33d4a6">31</div>
<div class="tl " style="left:654.78px;width:41.58px;top:694.67px;color:#dfe6ee">0</div>
<div class="tr b" style="left:711.86px;top:694.67px;color:#33d4a6">78</div>
<div class="tl " style="left:654.78px;width:41.58px;top:715.53px;color:#dfe6ee">26</div>
<div class="tr " style="left:711.86px;top:715.53px;color:#dfe6ee">110</div>
<div class="tl " style="left:654.78px;width:41.58px;top:736.39px;color:#dfe6ee">178</div>
<div class="tr " style="left:711.86px;top:736.39px;color:#dfe6ee">395</div>
<div class="tl " style="left:654.78px;width:41.58px;top:757.25px;color:#1b1f17">597</div>
<div class="tr " style="left:711.86px;top:757.25px;color:#1b1f17">813</div>
<div class="tl " style="left:654.78px;width:41.58px;top:778.11px;color:#dfe6ee">649</div>
<div class="tr " style="left:711.86px;top:778.11px;color:#dfe6ee">600</div>
<div class="tl " style="left:654.78px;width:41.58px;top:798.97px;color:#dfe6ee">344</div>
<div class="tr " style="left:711.86px;top:798.97px;color:#dfe6ee">285</div>
<div class="tl " style="left:654.78px;width:41.58px;top:819.83px;color:#dfe6ee">126</div>
<div class="tr " style="left:711.86px;top:819.83px;color:#dfe6ee">36</div>
<div class="tl " style="left:654.78px;width:41.58px;top:840.69px;color:#dfe6ee">15</div>
<div class="tr " style="left:711.86px;top:840.69px;color:#dfe6ee">0</div>
<div class="hd" style="left:644.56px;top:568.79px">V: 4 593</div>
<div class="hd" style="left:644.56px;top:586.79px;color:#33d4a6">D: 451</div>
<div class="a" style="left:754.34px;top:589.27px;width:47.08px;height:19.20px;background:#078445"></div>
<div class="a" style="left:806.82px;top:589.27px;width:47.08px;height:19.20px;background:#078445"></div>
<div class="a" style="left:754.34px;top:630.99px;width:47.08px;height:19.20px;background:rgba(31,134,226,0.920)"></div>
<div class="a" style="left:806.82px;top:630.99px;width:47.08px;height:19.20px;background:rgba(31,134,226,0.920)"></div>
<div class="a" style="left:754.34px;top:651.85px;width:47.08px;height:19.20px;background:rgba(31,134,226,0.942)"></div>
<div class="a" style="left:806.82px;top:651.85px;width:47.08px;height:19.20px;background:rgba(31,134,226,0.942)"></div>
<div class="a" style="left:754.34px;top:672.71px;width:47.08px;height:19.20px;background:rgba(31,134,226,0.577)"></div>
<div class="a" style="left:806.82px;top:672.71px;width:47.08px;height:19.20px;background:rgba(31,134,226,0.577)"></div>
<div class="a" style="left:754.34px;top:693.57px;width:47.08px;height:20.86px;background:rgba(31,134,226,0.280)"></div>
<div class="a" style="left:806.82px;top:693.57px;width:47.08px;height:20.86px;background:rgba(31,134,226,0.280)"></div>
<div class="a" style="left:754.34px;top:714.43px;width:47.08px;height:19.20px;background:rgba(31,134,226,0.379)"></div>
<div class="a" style="left:806.82px;top:714.43px;width:47.08px;height:19.20px;background:rgba(31,134,226,0.379)"></div>
<div class="a" style="left:754.34px;top:735.29px;width:47.08px;height:19.20px;background:rgba(31,134,226,0.492)"></div>
<div class="a" style="left:806.82px;top:735.29px;width:47.08px;height:19.20px;background:rgba(31,134,226,0.492)"></div>
<div class="a" style="left:754.34px;top:756.15px;width:47.08px;height:19.20px;background:rgba(31,134,226,0.317)"></div>
<div class="a" style="left:806.82px;top:756.15px;width:47.08px;height:19.20px;background:rgba(31,134,226,0.317)"></div>
<div class="a" style="left:754.34px;top:777.01px;width:47.08px;height:20.86px;background:rgba(31,134,226,0.210)"></div>
<div class="a" style="left:806.82px;top:777.01px;width:47.08px;height:20.86px;background:rgba(31,134,226,0.210)"></div>
<div class="a" style="left:754.34px;top:797.87px;width:47.08px;height:19.20px;background:rgba(31,134,226,0.210)"></div>
<div class="a" style="left:806.82px;top:797.87px;width:47.08px;height:19.20px;background:rgba(31,134,226,0.210)"></div>
<div class="a" style="left:754.34px;top:610.13px;width:47.08px;height:21.60px;background:#8a881e;border:2px solid #e6de12;box-sizing:border-box"></div>
<div class="a" style="left:806.82px;top:610.13px;width:47.08px;height:21.60px;background:#8a881e;border:2px solid #e6de12;box-sizing:border-box"></div>
<div class="a" style="left:799.62px;top:599.47px;width:9.00px;height:20.26px;background:#3ad8b4"></div>
<div class="tl " style="left:754.34px;width:41.58px;top:590.37px;color:#dfe6ee">65</div>
<div class="tr " style="left:811.42px;top:590.37px;color:#dfe6ee">171</div>
<div class="tl " style="left:754.34px;width:41.58px;top:611.23px;color:#1b1f17">498</div>
<div class="tr " style="left:811.42px;top:611.23px;color:#1b1f17">757</div>
<div class="tl " style="left:754.34px;width:41.58px;top:632.09px;color:#dfe6ee">508</div>
<div class="tr " style="left:811.42px;top:632.09px;color:#dfe6ee">647</div>
<div class="tl " style="left:754.34px;width:41.58px;top:652.95px;color:#dfe6ee">689</div>
<div class="tr " style="left:811.42px;top:652.95px;color:#dfe6ee">493</div>
<div class="tl " style="left:754.34px;width:41.58px;top:673.81px;color:#dfe6ee">376</div>
<div class="tr " style="left:811.42px;top:673.81px;color:#dfe6ee">348</div>
<div class="tl " style="left:754.34px;width:41.58px;top:694.67px;color:#dfe6ee">202</div>
<div class="tr " style="left:811.42px;top:694.67px;color:#dfe6ee">149</div>
<div class="tl " style="left:754.34px;width:41.58px;top:715.53px;color:#dfe6ee">246</div>
<div class="tr " style="left:811.42px;top:715.53px;color:#dfe6ee">230</div>
<div class="tl " style="left:754.34px;width:41.58px;top:736.39px;color:#dfe6ee">346</div>
<div class="tr " style="left:811.42px;top:736.39px;color:#dfe6ee">271</div>
<div class="tl " style="left:754.34px;width:41.58px;top:757.25px;color:#dfe6ee">271</div>
<div class="tr " style="left:811.42px;top:757.25px;color:#dfe6ee">127</div>
<div class="tl " style="left:754.34px;width:41.58px;top:778.11px;color:#dfe6ee">150</div>
<div class="tr b" style="left:811.42px;top:778.11px;color:#33d4a6">56</div>
<div class="tl " style="left:754.34px;width:41.58px;top:798.97px;color:#dfe6ee">16</div>
<div class="tr " style="left:811.42px;top:798.97px;color:#dfe6ee">0</div>
<div class="hd" style="left:744.12px;top:527.07px">V: 6 616</div>
<div class="hd" style="left:744.12px;top:545.07px;color:#ee6430">D: -118</div>
<svg class="a" style="left:792.32px;top:500.07px" width="20" height="14"><polyline points="2.5,12.5 10,5 17.5,12.5" fill="none" stroke="#2ec8a0" stroke-width="1.3"/></svg>
<div class="a" style="left:853.90px;top:484.97px;width:47.08px;height:19.20px;background:#078445"></div>
<div class="a" style="left:906.38px;top:484.97px;width:47.08px;height:19.20px;background:#078445"></div>
<div class="a" style="left:853.90px;top:505.83px;width:47.08px;height:19.20px;background:rgba(31,134,226,0.584)"></div>
<div class="a" style="left:906.38px;top:505.83px;width:47.08px;height:19.20px;background:rgba(31,134,226,0.584)"></div>
<div class="a" style="left:853.90px;top:547.55px;width:47.08px;height:19.20px;background:rgba(31,134,226,0.994)"></div>
<div class="a" style="left:906.38px;top:547.55px;width:47.08px;height:19.20px;background:rgba(31,134,226,0.994)"></div>
<div class="a" style="left:853.90px;top:568.41px;width:47.08px;height:19.20px;background:rgba(31,134,226,0.833)"></div>
<div class="a" style="left:906.38px;top:568.41px;width:47.08px;height:19.20px;background:rgba(31,134,226,0.833)"></div>
<div class="a" style="left:853.90px;top:589.27px;width:47.08px;height:19.20px;background:rgba(31,134,226,0.605)"></div>
<div class="a" style="left:906.38px;top:589.27px;width:47.08px;height:19.20px;background:rgba(31,134,226,0.605)"></div>
<div class="a" style="left:853.90px;top:610.13px;width:47.08px;height:20.86px;background:rgba(31,134,226,0.577)"></div>
<div class="a" style="left:906.38px;top:610.13px;width:47.08px;height:20.86px;background:rgba(31,134,226,0.577)"></div>
<div class="a" style="left:853.90px;top:630.99px;width:47.08px;height:19.20px;background:rgba(31,134,226,0.318)"></div>
<div class="a" style="left:906.38px;top:630.99px;width:47.08px;height:19.20px;background:rgba(31,134,226,0.318)"></div>
<div class="a" style="left:853.90px;top:651.85px;width:47.08px;height:19.20px;background:rgba(31,134,226,0.248)"></div>
<div class="a" style="left:906.38px;top:651.85px;width:47.08px;height:19.20px;background:rgba(31,134,226,0.248)"></div>
<div class="a" style="left:853.90px;top:672.71px;width:47.08px;height:19.20px;background:rgba(31,134,226,0.210)"></div>
<div class="a" style="left:906.38px;top:672.71px;width:47.08px;height:19.20px;background:rgba(31,134,226,0.210)"></div>
<div class="a" style="left:853.90px;top:693.57px;width:47.08px;height:19.20px;background:rgba(31,134,226,0.210)"></div>
<div class="a" style="left:906.38px;top:693.57px;width:47.08px;height:19.20px;background:rgba(31,134,226,0.210)"></div>
<div class="a" style="left:853.90px;top:526.69px;width:47.08px;height:21.60px;background:#8a881e;border:2px solid #e6de12;box-sizing:border-box"></div>
<div class="a" style="left:906.38px;top:526.69px;width:47.08px;height:21.60px;background:#8a881e;border:2px solid #e6de12;box-sizing:border-box"></div>
<div class="a" style="left:899.18px;top:495.17px;width:9.00px;height:82.84px;background:#3ad8b4"></div>
<div class="tl " style="left:853.90px;width:41.58px;top:486.07px;color:#dfe6ee">12</div>
<div class="tr " style="left:910.98px;top:486.07px;color:#dfe6ee">194</div>
<div class="tl " style="left:853.90px;width:41.58px;top:506.93px;color:#dfe6ee">453</div>
<div class="tr " style="left:910.98px;top:506.93px;color:#dfe6ee">563</div>
<div class="tl " style="left:853.90px;width:41.58px;top:527.79px;color:#1b1f17">833</div>
<div class="tr " style="left:910.98px;top:527.79px;color:#1b1f17">908</div>
<div class="tl " style="left:853.90px;width:41.58px;top:548.65px;color:#dfe6ee">762</div>
<div class="tr " style="left:910.98px;top:548.65px;color:#dfe6ee">969</div>
<div class="tl " style="left:853.90px;width:41.58px;top:569.51px;color:#dfe6ee">791</div>
<div class="tr " style="left:910.98px;top:569.51px;color:#dfe6ee">659</div>
<div class="tl " style="left:853.90px;width:41.58px;top:590.37px;color:#dfe6ee">537</div>
<div class="tr " style="left:910.98px;top:590.37px;color:#dfe6ee">517</div>
<div class="tl " style="left:853.90px;width:41.58px;top:611.23px;color:#dfe6ee">543</div>
<div class="tr " style="left:910.98px;top:611.23px;color:#dfe6ee">462</div>
<div class="tl " style="left:853.90px;width:41.58px;top:632.09px;color:#dfe6ee">381</div>
<div class="tr " style="left:910.98px;top:632.09px;color:#dfe6ee">173</div>
<div class="tl " style="left:853.90px;width:41.58px;top:652.95px;color:#dfe6ee">250</div>
<div class="tr " style="left:910.98px;top:652.95px;color:#dfe6ee">181</div>
<div class="tl " style="left:853.90px;width:41.58px;top:673.81px;color:#dfe6ee">239</div>
<div class="tr " style="left:910.98px;top:673.81px;color:#dfe6ee">105</div>
<div class="tl " style="left:853.90px;width:41.58px;top:694.67px;color:#dfe6ee">122</div>
<div class="tr " style="left:910.98px;top:694.67px;color:#dfe6ee">0</div>
<div class="hd" style="left:843.68px;top:422.77px">V: 9 654</div>
<div class="hd" style="left:843.68px;top:440.77px;color:#ee6430">D: -192</div>
<svg class="a" style="left:891.88px;top:395.77px" width="20" height="14"><polyline points="2.5,12.5 10,5 17.5,12.5" fill="none" stroke="#2ec8a0" stroke-width="1.3"/></svg>
<div class="a" style="left:953.46px;top:401.53px;width:47.08px;height:19.20px;background:#078445"></div>
<div class="a" style="left:1005.94px;top:401.53px;width:47.08px;height:19.20px;background:#078445"></div>
<div class="a" style="left:953.46px;top:422.39px;width:47.08px;height:19.20px;background:rgba(31,134,226,0.328)"></div>
<div class="a" style="left:1005.94px;top:422.39px;width:47.08px;height:19.20px;background:rgba(31,134,226,0.328)"></div>
<div class="a" style="left:953.46px;top:464.11px;width:47.08px;height:19.20px;background:rgba(31,134,226,0.324)"></div>
<div class="a" style="left:1005.94px;top:464.11px;width:47.08px;height:19.20px;background:rgba(31,134,226,0.324)"></div>
<div class="a" style="left:953.46px;top:484.97px;width:47.08px;height:19.20px;background:rgba(31,134,226,0.210)"></div>
<div class="a" style="left:1005.94px;top:484.97px;width:47.08px;height:19.20px;background:rgba(31,134,226,0.210)"></div>
<div class="a" style="left:953.46px;top:505.83px;width:47.08px;height:19.20px;background:rgba(31,134,226,0.781)"></div>
<div class="a" style="left:1005.94px;top:505.83px;width:47.08px;height:19.20px;background:rgba(31,134,226,0.781)"></div>
<div class="a" style="left:953.46px;top:526.69px;width:47.08px;height:20.86px;background:rgba(31,134,226,0.573)"></div>
<div class="a" style="left:1005.94px;top:526.69px;width:47.08px;height:20.86px;background:rgba(31,134,226,0.573)"></div>
<div class="a" style="left:953.46px;top:547.55px;width:47.08px;height:19.20px;background:rgba(31,134,226,0.497)"></div>
<div class="a" style="left:1005.94px;top:547.55px;width:47.08px;height:19.20px;background:rgba(31,134,226,0.497)"></div>
<div class="a" style="left:953.46px;top:568.41px;width:47.08px;height:19.20px;background:rgba(31,134,226,0.210)"></div>
<div class="a" style="left:1005.94px;top:568.41px;width:47.08px;height:19.20px;background:rgba(31,134,226,0.210)"></div>
<div class="a" style="left:953.46px;top:589.27px;width:47.08px;height:19.20px;background:rgba(31,134,226,0.210)"></div>
<div class="a" style="left:1005.94px;top:589.27px;width:47.08px;height:19.20px;background:rgba(31,134,226,0.210)"></div>
<div class="a" style="left:953.46px;top:610.13px;width:47.08px;height:19.20px;background:rgba(31,134,226,0.210)"></div>
<div class="a" style="left:1005.94px;top:610.13px;width:47.08px;height:19.20px;background:rgba(31,134,226,0.210)"></div>
<div class="a" style="left:953.46px;top:443.25px;width:47.08px;height:21.60px;background:#8a881e;border:2px solid #e6de12;box-sizing:border-box"></div>
<div class="a" style="left:1005.94px;top:443.25px;width:47.08px;height:21.60px;background:#8a881e;border:2px solid #e6de12;box-sizing:border-box"></div>
<div class="a" style="left:998.74px;top:411.73px;width:9.00px;height:61.98px;background:#3ad8b4"></div>
<div class="tl " style="left:953.46px;width:41.58px;top:402.63px;color:#dfe6ee">43</div>
<div class="tr " style="left:1010.54px;top:402.63px;color:#dfe6ee">66</div>
<div class="tl " style="left:953.46px;width:41.58px;top:423.49px;color:#dfe6ee">135</div>
<div class="tr " style="left:1010.54px;top:423.49px;color:#dfe6ee">223</div>
<div class="tl " style="left:953.46px;width:41.58px;top:444.35px;color:#1b1f17">164</div>
<div class="tr b" style="left:1010.54px;top:444.35px;color:#1b1f17">929</div>
<div class="tl " style="left:953.46px;width:41.58px;top:465.21px;color:#dfe6ee">112</div>
<div class="tr " style="left:1010.54px;top:465.21px;color:#dfe6ee">242</div>
<div class="tl " style="left:953.46px;width:41.58px;top:486.07px;color:#dfe6ee">90</div>
<div class="tr " style="left:1010.54px;top:486.07px;color:#dfe6ee">91</div>
<div class="tl b" style="left:953.46px;width:41.58px;top:506.93px;color:#f0602c">427</div>
<div class="tr " style="left:1010.54px;top:506.93px;color:#dfe6ee">427</div>
<div class="tl " style="left:953.46px;width:41.58px;top:527.79px;color:#dfe6ee">378</div>
<div class="tr " style="left:1010.54px;top:527.79px;color:#dfe6ee">248</div>
<div class="tl " style="left:953.46px;width:41.58px;top:548.65px;color:#dfe6ee">329</div>
<div class="tr b" style="left:1010.54px;top:548.65px;color:#33d4a6">214</div>
<div class="tl " style="left:953.46px;width:41.58px;top:569.51px;color:#dfe6ee">38</div>
<div class="tr " style="left:1010.54px;top:569.51px;color:#dfe6ee">71</div>
<div class="tl " style="left:953.46px;width:41.58px;top:590.37px;color:#dfe6ee">73</div>
<div class="tr b" style="left:1010.54px;top:590.37px;color:#33d4a6">70</div>
<div class="tl " style="left:953.46px;width:41.58px;top:611.23px;color:#dfe6ee">4</div>
<div class="tr " style="left:1010.54px;top:611.23px;color:#dfe6ee">0</div>
<div class="hd" style="left:943.24px;top:339.33px">V: 4 374</div>
<div class="hd" style="left:943.24px;top:357.33px;color:#33d4a6">D: 788</div>
<div class="a" style="left:1053.02px;top:297.23px;width:47.08px;height:19.20px;background:rgba(31,134,226,0.210)"></div>
<div class="a" style="left:1105.50px;top:297.23px;width:47.08px;height:19.20px;background:rgba(31,134,226,0.210)"></div>
<div class="a" style="left:1053.02px;top:318.09px;width:47.08px;height:19.20px;background:rgba(31,134,226,0.220)"></div>
<div class="a" style="left:1105.50px;top:318.09px;width:47.08px;height:19.20px;background:rgba(31,134,226,0.220)"></div>
<div class="a" style="left:1053.02px;top:338.95px;width:47.08px;height:19.20px;background:rgba(31,134,226,0.380)"></div>
<div class="a" style="left:1105.50px;top:338.95px;width:47.08px;height:19.20px;background:rgba(31,134,226,0.380)"></div>
<div class="a" style="left:1053.02px;top:359.81px;width:47.08px;height:20.86px;background:rgba(31,134,226,0.785)"></div>
<div class="a" style="left:1105.50px;top:359.81px;width:47.08px;height:20.86px;background:rgba(31,134,226,0.785)"></div>
<div class="a" style="left:1053.02px;top:380.67px;width:47.08px;height:19.20px;background:rgba(31,134,226,0.903)"></div>
<div class="a" style="left:1105.50px;top:380.67px;width:47.08px;height:19.20px;background:rgba(31,134,226,0.903)"></div>
<div class="a" style="left:1053.02px;top:422.39px;width:47.08px;height:19.20px;background:rgba(31,134,226,0.257)"></div>
<div class="a" style="left:1105.50px;top:422.39px;width:47.08px;height:19.20px;background:rgba(31,134,226,0.257)"></div>
<div class="a" style="left:1053.02px;top:443.25px;width:47.08px;height:20.86px;background:rgba(31,134,226,0.210)"></div>
<div class="a" style="left:1105.50px;top:443.25px;width:47.08px;height:20.86px;background:rgba(31,134,226,0.210)"></div>
<div class="a" style="left:1053.02px;top:464.11px;width:47.08px;height:19.20px;background:rgba(31,134,226,0.210)"></div>
<div class="a" style="left:1105.50px;top:464.11px;width:47.08px;height:19.20px;background:rgba(31,134,226,0.210)"></div>
<div class="a" style="left:1053.02px;top:484.97px;width:47.08px;height:19.20px;background:rgba(31,134,226,0.425)"></div>
<div class="a" style="left:1105.50px;top:484.97px;width:47.08px;height:19.20px;background:rgba(31,134,226,0.425)"></div>
<div class="a" style="left:1053.02px;top:505.83px;width:47.08px;height:19.20px;background:rgba(31,134,226,0.210)"></div>
<div class="a" style="left:1105.50px;top:505.83px;width:47.08px;height:19.20px;background:rgba(31,134,226,0.210)"></div>
<div class="a" style="left:1053.02px;top:401.53px;width:47.08px;height:21.60px;background:#8a881e;border:2px solid #e6de12;box-sizing:border-box"></div>
<div class="a" style="left:1105.50px;top:401.53px;width:47.08px;height:21.60px;background:#8a881e;border:2px solid #e6de12;box-sizing:border-box"></div>
<div class="a" style="left:1098.30px;top:390.87px;width:9.00px;height:124.56px;background:#ee6630"></div>
<div class="tl " style="left:1053.02px;width:41.58px;top:298.33px;color:#dfe6ee">0</div>
<div class="tr b" style="left:1110.10px;top:298.33px;color:#33d4a6">39</div>
<div class="tl " style="left:1053.02px;width:41.58px;top:319.19px;color:#dfe6ee">0</div>
<div class="tr " style="left:1110.10px;top:319.19px;color:#dfe6ee">155</div>
<div class="tl " style="left:1053.02px;width:41.58px;top:340.05px;color:#dfe6ee">78</div>
<div class="tr " style="left:1110.10px;top:340.05px;color:#dfe6ee">189</div>
<div class="tl " style="left:1053.02px;width:41.58px;top:360.91px;color:#dfe6ee">177</div>
<div class="tr " style="left:1110.10px;top:360.91px;color:#dfe6ee">375</div>
<div class="tl " style="left:1053.02px;width:41.58px;top:381.77px;color:#dfe6ee">248</div>
<div class="tr " style="left:1110.10px;top:381.77px;color:#dfe6ee">387</div>
<div class="tl " style="left:1053.02px;width:41.58px;top:402.63px;color:#1b1f17">364</div>
<div class="tr " style="left:1110.10px;top:402.63px;color:#1b1f17">339</div>
<div class="tl " style="left:1053.02px;width:41.58px;top:423.49px;color:#dfe6ee">156</div>
<div class="tr " style="left:1110.10px;top:423.49px;color:#dfe6ee">25</div>
<div class="tl " style="left:1053.02px;width:41.58px;top:444.35px;color:#dfe6ee">50</div>
<div class="tr " style="left:1110.10px;top:444.35px;color:#dfe6ee">41</div>
<div class="tl " style="left:1053.02px;width:41.58px;top:465.21px;color:#dfe6ee">57</div>
<div class="tr " style="left:1110.10px;top:465.21px;color:#dfe6ee">46</div>
<div class="tl b" style="left:1053.02px;width:41.58px;top:486.07px;color:#f0602c">190</div>
<div class="tr b" style="left:1110.10px;top:486.07px;color:#33d4a6">109</div>
<div class="tl " style="left:1053.02px;width:41.58px;top:506.93px;color:#dfe6ee">20</div>
<div class="tr " style="left:1110.10px;top:506.93px;color:#dfe6ee">0</div>
<div class="hd" style="left:1042.80px;top:235.03px">V: 3 045</div>
<div class="hd" style="left:1042.80px;top:253.03px;color:#33d4a6">D: 365</div>
<svg class="a" style="left:1090.30px;top:206.63px" width="20" height="14"><polyline points="2.5,5 10,12.5 17.5,5" fill="none" stroke="#e0602a" stroke-width="1.3"/></svg>
<div class="a" style="left:1152.58px;top:380.67px;width:47.08px;height:19.20px;background:#078445"></div>
<div class="a" style="left:1205.06px;top:380.67px;width:47.08px;height:19.20px;background:#078445"></div>
<div class="a" style="left:1152.58px;top:401.53px;width:47.08px;height:19.20px;background:rgba(31,134,226,0.599)"></div>
<div class="a" style="left:1205.06px;top:401.53px;width:47.08px;height:19.20px;background:rgba(31,134,226,0.599)"></div>
<div class="a" style="left:1152.58px;top:443.25px;width:47.08px;height:20.86px;background:rgba(31,134,226,0.507)"></div>
<div class="a" style="left:1205.06px;top:443.25px;width:47.08px;height:20.86px;background:rgba(31,134,226,0.507)"></div>
<div class="a" style="left:1152.58px;top:464.11px;width:47.08px;height:19.20px;background:rgba(31,134,226,0.219)"></div>
<div class="a" style="left:1205.06px;top:464.11px;width:47.08px;height:19.20px;background:rgba(31,134,226,0.219)"></div>
<div class="a" style="left:1152.58px;top:484.97px;width:47.08px;height:19.20px;background:rgba(31,134,226,0.473)"></div>
<div class="a" style="left:1205.06px;top:484.97px;width:47.08px;height:19.20px;background:rgba(31,134,226,0.473)"></div>
<div class="a" style="left:1152.58px;top:505.83px;width:47.08px;height:19.20px;background:rgba(31,134,226,0.337)"></div>
<div class="a" style="left:1205.06px;top:505.83px;width:47.08px;height:19.20px;background:rgba(31,134,226,0.337)"></div>
<div class="a" style="left:1152.58px;top:526.69px;width:47.08px;height:20.86px;background:rgba(31,134,226,0.414)"></div>
<div class="a" style="left:1205.06px;top:526.69px;width:47.08px;height:20.86px;background:rgba(31,134,226,0.414)"></div>
<div class="a" style="left:1152.58px;top:547.55px;width:47.08px;height:19.20px;background:rgba(31,134,226,0.252)"></div>
<div class="a" style="left:1205.06px;top:547.55px;width:47.08px;height:19.20px;background:rgba(31,134,226,0.252)"></div>
<div class="a" style="left:1152.58px;top:568.41px;width:47.08px;height:19.20px;background:rgba(31,134,226,0.360)"></div>
<div class="a" style="left:1205.06px;top:568.41px;width:47.08px;height:19.20px;background:rgba(31,134,226,0.360)"></div>
<div class="a" style="left:1152.58px;top:589.27px;width:47.08px;height:19.20px;background:#078445"></div>
<div class="a" style="left:1205.06px;top:589.27px;width:47.08px;height:19.20px;background:#078445"></div>
<div class="a" style="left:1152.58px;top:422.39px;width:47.08px;height:21.60px;background:#8a881e;border:2px solid #e6de12;box-sizing:border-box"></div>
<div class="a" style="left:1205.06px;top:422.39px;width:47.08px;height:21.60px;background:#8a881e;border:2px solid #e6de12;box-sizing:border-box"></div>
<div class="a" style="left:1197.86px;top:390.87px;width:9.00px;height:145.42px;background:#3ad8b4"></div>
<div class="tl " style="left:1152.58px;width:41.58px;top:381.77px;color:#dfe6ee">88</div>
<div class="tr " style="left:1209.66px;top:381.77px;color:#dfe6ee">186</div>
<div class="tl " style="left:1152.58px;width:41.58px;top:402.63px;color:#dfe6ee">174</div>
<div class="tr " style="left:1209.66px;top:402.63px;color:#dfe6ee">366</div>
<div class="tl " style="left:1152.58px;width:41.58px;top:423.49px;color:#1b1f17">494</div>
<div class="tr " style="left:1209.66px;top:423.49px;color:#1b1f17">407</div>
<div class="tl " style="left:1152.58px;width:41.58px;top:444.35px;color:#dfe6ee">150</div>
<div class="tr " style="left:1209.66px;top:444.35px;color:#dfe6ee">307</div>
<div class="tl " style="left:1152.58px;width:41.58px;top:465.21px;color:#dfe6ee">115</div>
<div class="tr " style="left:1209.66px;top:465.21px;color:#dfe6ee">82</div>
<div class="tl " style="left:1152.58px;width:41.58px;top:486.07px;color:#dfe6ee">182</div>
<div class="tr " style="left:1209.66px;top:486.07px;color:#dfe6ee">244</div>
<div class="tl " style="left:1152.58px;width:41.58px;top:506.93px;color:#dfe6ee">140</div>
<div class="tr " style="left:1209.66px;top:506.93px;color:#dfe6ee">164</div>
<div class="tl " style="left:1152.58px;width:41.58px;top:527.79px;color:#dfe6ee">252</div>
<div class="tr " style="left:1209.66px;top:527.79px;color:#dfe6ee">121</div>
<div class="tl " style="left:1152.58px;width:41.58px;top:548.65px;color:#dfe6ee">120</div>
<div class="tr " style="left:1209.66px;top:548.65px;color:#dfe6ee">107</div>
<div class="tl " style="left:1152.58px;width:41.58px;top:569.51px;color:#dfe6ee">157</div>
<div class="tr " style="left:1209.66px;top:569.51px;color:#dfe6ee">167</div>
<div class="tl " style="left:1152.58px;width:41.58px;top:590.37px;color:#dfe6ee">123</div>
<div class="tr " style="left:1209.66px;top:590.37px;color:#dfe6ee">53</div>
<div class="hd" style="left:1142.36px;top:318.47px">V: 4 199</div>
<div class="hd" style="left:1142.36px;top:336.47px;color:#33d4a6">D: 209</div>
<div class="a" style="left:1252.14px;top:192.93px;width:47.08px;height:20.86px;background:rgba(31,134,226,0.210)"></div>
<div class="a" style="left:1304.62px;top:192.93px;width:47.08px;height:20.86px;background:rgba(31,134,226,0.210)"></div>
<div class="a" style="left:1252.14px;top:213.79px;width:47.08px;height:19.20px;background:rgba(31,134,226,0.210)"></div>
<div class="a" style="left:1304.62px;top:213.79px;width:47.08px;height:19.20px;background:rgba(31,134,226,0.210)"></div>
<div class="a" style="left:1252.14px;top:234.65px;width:47.08px;height:19.20px;background:rgba(31,134,226,0.210)"></div>
<div class="a" style="left:1304.62px;top:234.65px;width:47.08px;height:19.20px;background:rgba(31,134,226,0.210)"></div>
<div class="a" style="left:1252.14px;top:255.51px;width:47.08px;height:19.20px;background:rgba(31,134,226,0.244)"></div>
<div class="a" style="left:1304.62px;top:255.51px;width:47.08px;height:19.20px;background:rgba(31,134,226,0.244)"></div>
<div class="a" style="left:1252.14px;top:276.37px;width:47.08px;height:20.86px;background:rgba(31,134,226,0.683)"></div>
<div class="a" style="left:1304.62px;top:276.37px;width:47.08px;height:20.86px;background:rgba(31,134,226,0.683)"></div>
<div class="a" style="left:1252.14px;top:318.09px;width:47.08px;height:19.20px;background:rgba(31,134,226,0.995)"></div>
<div class="a" style="left:1304.62px;top:318.09px;width:47.08px;height:19.20px;background:rgba(31,134,226,0.995)"></div>
<div class="a" style="left:1252.14px;top:338.95px;width:47.08px;height:19.20px;background:rgba(31,134,226,0.590)"></div>
<div class="a" style="left:1304.62px;top:338.95px;width:47.08px;height:19.20px;background:rgba(31,134,226,0.590)"></div>
<div class="a" style="left:1252.14px;top:359.81px;width:47.08px;height:20.86px;background:rgba(31,134,226,0.666)"></div>
<div class="a" style="left:1304.62px;top:359.81px;width:47.08px;height:20.86px;background:rgba(31,134,226,0.666)"></div>
<div class="a" style="left:1252.14px;top:380.67px;width:47.08px;height:19.20px;background:rgba(31,134,226,0.210)"></div>
<div class="a" style="left:1304.62px;top:380.67px;width:47.08px;height:19.20px;background:rgba(31,134,226,0.210)"></div>
<div class="a" style="left:1252.14px;top:401.53px;width:47.08px;height:19.20px;background:rgba(31,134,226,0.210)"></div>
<div class="a" style="left:1304.62px;top:401.53px;width:47.08px;height:19.20px;background:rgba(31,134,226,0.210)"></div>
<div class="a" style="left:1252.14px;top:297.23px;width:47.08px;height:21.60px;background:#8a881e;border:2px solid #e6de12;box-sizing:border-box"></div>
<div class="a" style="left:1304.62px;top:297.23px;width:47.08px;height:21.60px;background:#8a881e;border:2px solid #e6de12;box-sizing:border-box"></div>
<div class="a" style="left:1297.42px;top:203.13px;width:9.00px;height:166.28px;background:#3ad8b4"></div>
<div class="tl " style="left:1252.14px;width:41.58px;top:194.03px;color:#dfe6ee">0</div>
<div class="tr b" style="left:1309.22px;top:194.03px;color:#33d4a6">182</div>
<div class="tl " style="left:1252.14px;width:41.58px;top:214.89px;color:#dfe6ee">0</div>
<div class="tr b" style="left:1309.22px;top:214.89px;color:#33d4a6">69</div>
<div class="tl " style="left:1252.14px;width:41.58px;top:235.75px;color:#dfe6ee">0</div>
<div class="tr " style="left:1309.22px;top:235.75px;color:#dfe6ee">101</div>
<div class="tl " style="left:1252.14px;width:41.58px;top:256.61px;color:#dfe6ee">166</div>
<div class="tr " style="left:1309.22px;top:256.61px;color:#dfe6ee">557</div>
<div class="tl " style="left:1252.14px;width:41.58px;top:277.47px;color:#dfe6ee">705</div>
<div class="tr " style="left:1309.22px;top:277.47px;color:#dfe6ee">1 324</div>
<div class="tl " style="left:1252.14px;width:41.58px;top:298.33px;color:#1b1f17">1 513</div>
<div class="tr " style="left:1309.22px;top:298.33px;color:#1b1f17">1 456</div>
<div class="tl " style="left:1252.14px;width:41.58px;top:319.19px;color:#dfe6ee">1 320</div>
<div class="tr " style="left:1309.22px;top:319.19px;color:#dfe6ee">1 635</div>
<div class="tl " style="left:1252.14px;width:41.58px;top:340.05px;color:#dfe6ee">714</div>
<div class="tr " style="left:1309.22px;top:340.05px;color:#dfe6ee">1 037</div>
<div class="tl " style="left:1252.14px;width:41.58px;top:360.91px;color:#dfe6ee">1 251</div>
<div class="tr " style="left:1309.22px;top:360.91px;color:#dfe6ee">726</div>
<div class="tl " style="left:1252.14px;width:41.58px;top:381.77px;color:#dfe6ee">258</div>
<div class="tr b" style="left:1309.22px;top:381.77px;color:#33d4a6">161</div>
<div class="tl " style="left:1252.14px;width:41.58px;top:402.63px;color:#dfe6ee">12</div>
<div class="tr " style="left:1309.22px;top:402.63px;color:#dfe6ee">0</div>
<div class="hd" style="left:1241.92px;top:130.73px">V: 13 187</div>
<div class="hd" style="left:1241.92px;top:148.73px;color:#33d4a6">D: 1 309</div>
<div class="a" style="left:1351.70px;top:130.35px;width:47.08px;height:20.86px;background:rgba(31,134,226,0.210)"></div>
<div class="a" style="left:1404.18px;top:130.35px;width:47.08px;height:20.86px;background:rgba(31,134,226,0.210)"></div>
<div class="a" style="left:1351.70px;top:151.21px;width:47.08px;height:19.20px;background:rgba(31,134,226,0.243)"></div>
<div class="a" style="left:1404.18px;top:151.21px;width:47.08px;height:19.20px;background:rgba(31,134,226,0.243)"></div>
<div class="a" style="left:1351.70px;top:172.07px;width:47.08px;height:19.20px;background:rgba(31,134,226,0.911)"></div>
<div class="a" style="left:1404.18px;top:172.07px;width:47.08px;height:19.20px;background:rgba(31,134,226,0.911)"></div>
<div class="a" style="left:1351.70px;top:213.79px;width:47.08px;height:19.20px;background:rgba(31,134,226,0.660)"></div>
<div class="a" style="left:1404.18px;top:213.79px;width:47.08px;height:19.20px;background:rgba(31,134,226,0.660)"></div>
<div class="a" style="left:1351.70px;top:234.65px;width:47.08px;height:19.20px;background:rgba(31,134,226,0.327)"></div>
<div class="a" style="left:1404.18px;top:234.65px;width:47.08px;height:19.20px;background:rgba(31,134,226,0.327)"></div>
<div class="a" style="left:1351.70px;top:255.51px;width:47.08px;height:19.20px;background:rgba(31,134,226,0.459)"></div>
<div class="a" style="left:1404.18px;top:255.51px;width:47.08px;height:19.20px;background:rgba(31,134,226,0.459)"></div>
<div class="a" style="left:1351.70px;top:276.37px;width:47.08px;height:20.86px;background:rgba(31,134,226,0.515)"></div>
<div class="a" style="left:1404.18px;top:276.37px;width:47.08px;height:20.86px;background:rgba(31,134,226,0.515)"></div>
<div class="a" style="left:1351.70px;top:297.23px;width:47.08px;height:19.20px;background:rgba(31,134,226,0.210)"></div>
<div class="a" style="left:1404.18px;top:297.23px;width:47.08px;height:19.20px;background:rgba(31,134,226,0.210)"></div>
<div class="a" style="left:1351.70px;top:318.09px;width:47.08px;height:19.20px;background:rgba(31,134,226,0.210)"></div>
<div class="a" style="left:1404.18px;top:318.09px;width:47.08px;height:19.20px;background:rgba(31,134,226,0.210)"></div>
<div class="a" style="left:1351.70px;top:338.95px;width:47.08px;height:19.20px;background:rgba(31,134,226,0.210)"></div>
<div class="a" style="left:1404.18px;top:338.95px;width:47.08px;height:19.20px;background:rgba(31,134,226,0.210)"></div>
<div class="a" style="left:1351.70px;top:192.93px;width:47.08px;height:21.60px;background:#8a881e;border:2px solid #e6de12;box-sizing:border-box"></div>
<div class="a" style="left:1404.18px;top:192.93px;width:47.08px;height:21.60px;background:#8a881e;border:2px solid #e6de12;box-sizing:border-box"></div>
<div class="a" style="left:1396.98px;top:182.27px;width:9.00px;height:166.28px;background:#ee6630"></div>
<div class="tl " style="left:1351.70px;width:41.58px;top:131.45px;color:#dfe6ee">0</div>
<div class="tr " style="left:1408.78px;top:131.45px;color:#dfe6ee">66</div>
<div class="tl " style="left:1351.70px;width:41.58px;top:152.31px;color:#dfe6ee">100</div>
<div class="tr " style="left:1408.78px;top:152.31px;color:#dfe6ee">262</div>
<div class="tl " style="left:1351.70px;width:41.58px;top:173.17px;color:#dfe6ee">486</div>
<div class="tr " style="left:1408.78px;top:173.17px;color:#dfe6ee">871</div>
<div class="tl " style="left:1351.70px;width:41.58px;top:194.03px;color:#1b1f17">799</div>
<div class="tr " style="left:1408.78px;top:194.03px;color:#1b1f17">691</div>
<div class="tl " style="left:1351.70px;width:41.58px;top:214.89px;color:#dfe6ee">628</div>
<div class="tr " style="left:1408.78px;top:214.89px;color:#dfe6ee">355</div>
<div class="tl " style="left:1351.70px;width:41.58px;top:235.75px;color:#dfe6ee">365</div>
<div class="tr " style="left:1408.78px;top:235.75px;color:#dfe6ee">122</div>
<div class="tl b" style="left:1351.70px;width:41.58px;top:256.61px;color:#f0602c">411</div>
<div class="tr " style="left:1408.78px;top:256.61px;color:#dfe6ee">273</div>
<div class="tl " style="left:1351.70px;width:41.58px;top:277.47px;color:#dfe6ee">531</div>
<div class="tr " style="left:1408.78px;top:277.47px;color:#dfe6ee">236</div>
<div class="tl " style="left:1351.70px;width:41.58px;top:298.33px;color:#dfe6ee">197</div>
<div class="tr " style="left:1408.78px;top:298.33px;color:#dfe6ee">39</div>
<div class="tl b" style="left:1351.70px;width:41.58px;top:319.19px;color:#f0602c">192</div>
<div class="tr " style="left:1408.78px;top:319.19px;color:#dfe6ee">4</div>
<div class="tl b" style="left:1351.70px;width:41.58px;top:340.05px;color:#f0602c">94</div>
<div class="tr " style="left:1408.78px;top:340.05px;color:#dfe6ee">0</div>
<div class="hd" style="left:1341.48px;top:68.15px">V: 6 722</div>
<div class="hd" style="left:1341.48px;top:86.15px;color:#ee6430">D: -884</div>
<div class="a" style="left:1451.26px;top:234.65px;width:47.08px;height:19.20px;background:#078445"></div>
<div class="a" style="left:1503.74px;top:234.65px;width:47.08px;height:19.20px;background:#078445"></div>
<div class="a" style="left:1451.26px;top:255.51px;width:47.08px;height:19.20px;background:rgba(31,134,226,0.423)"></div>
<div class="a" style="left:1503.74px;top:255.51px;width:47.08px;height:19.20px;background:rgba(31,134,226,0.423)"></div>
<div class="a" style="left:1451.26px;top:276.37px;width:47.08px;height:20.86px;background:rgba(31,134,226,0.296)"></div>
<div class="a" style="left:1503.74px;top:276.37px;width:47.08px;height:20.86px;background:rgba(31,134,226,0.296)"></div>
<div class="a" style="left:1451.26px;top:297.23px;width:47.08px;height:19.20px;background:rgba(31,134,226,0.210)"></div>
<div class="a" style="left:1503.74px;top:297.23px;width:47.08px;height:19.20px;background:rgba(31,134,226,0.210)"></div>
<div class="a" style="left:1451.26px;top:318.09px;width:47.08px;height:19.20px;background:rgba(31,134,226,0.223)"></div>
<div class="a" style="left:1503.74px;top:318.09px;width:47.08px;height:19.20px;background:rgba(31,134,226,0.223)"></div>
<div class="a" style="left:1451.26px;top:338.95px;width:47.08px;height:19.20px;background:rgba(31,134,226,0.787)"></div>
<div class="a" style="left:1503.74px;top:338.95px;width:47.08px;height:19.20px;background:rgba(31,134,226,0.787)"></div>
<div class="a" style="left:1451.26px;top:380.67px;width:47.08px;height:19.20px;background:rgba(31,134,226,0.552)"></div>
<div class="a" style="left:1503.74px;top:380.67px;width:47.08px;height:19.20px;background:rgba(31,134,226,0.552)"></div>
<div class="a" style="left:1451.26px;top:401.53px;width:47.08px;height:19.20px;background:rgba(31,134,226,0.293)"></div>
<div class="a" style="left:1503.74px;top:401.53px;width:47.08px;height:19.20px;background:rgba(31,134,226,0.293)"></div>
<div class="a" style="left:1451.26px;top:422.39px;width:47.08px;height:19.20px;background:rgba(31,134,226,0.275)"></div>
<div class="a" style="left:1503.74px;top:422.39px;width:47.08px;height:19.20px;background:rgba(31,134,226,0.275)"></div>
<div class="a" style="left:1451.26px;top:443.25px;width:47.08px;height:19.20px;background:rgba(31,134,226,0.210)"></div>
<div class="a" style="left:1503.74px;top:443.25px;width:47.08px;height:19.20px;background:rgba(31,134,226,0.210)"></div>
<div class="a" style="left:1451.26px;top:359.81px;width:47.08px;height:21.60px;background:#8a881e;border:2px solid #e6de12;box-sizing:border-box"></div>
<div class="a" style="left:1503.74px;top:359.81px;width:47.08px;height:21.60px;background:#8a881e;border:2px solid #e6de12;box-sizing:border-box"></div>
<div class="a" style="left:1496.54px;top:370.01px;width:9.00px;height:82.84px;background:#ee6630"></div>
<div class="tl " style="left:1451.26px;width:41.58px;top:235.75px;color:#dfe6ee">14</div>
<div class="tr " style="left:1508.34px;top:235.75px;color:#dfe6ee">70</div>
<div class="tl b" style="left:1451.26px;width:41.58px;top:256.61px;color:#f0602c">298</div>
<div class="tr " style="left:1508.34px;top:256.61px;color:#dfe6ee">189</div>
<div class="tl " style="left:1451.26px;width:41.58px;top:277.47px;color:#dfe6ee">205</div>
<div class="tr " style="left:1508.34px;top:277.47px;color:#dfe6ee">136</div>
<div class="tl " style="left:1451.26px;width:41.58px;top:298.33px;color:#dfe6ee">108</div>
<div class="tr " style="left:1508.34px;top:298.33px;color:#dfe6ee">21</div>
<div class="tl b" style="left:1451.26px;width:41.58px;top:319.19px;color:#f0602c">169</div>
<div class="tr " style="left:1508.34px;top:319.19px;color:#dfe6ee">88</div>
<div class="tl b" style="left:1451.26px;width:41.58px;top:340.05px;color:#f0602c">513</div>
<div class="tr " style="left:1508.34px;top:340.05px;color:#dfe6ee">393</div>
<div class="tl " style="left:1451.26px;width:41.58px;top:360.91px;color:#1b1f17">616</div>
<div class="tr " style="left:1508.34px;top:360.91px;color:#1b1f17">535</div>
<div class="tl " style="left:1451.26px;width:41.58px;top:381.77px;color:#dfe6ee">444</div>
<div class="tr " style="left:1508.34px;top:381.77px;color:#dfe6ee">191</div>
<div class="tl " style="left:1451.26px;width:41.58px;top:402.63px;color:#dfe6ee">273</div>
<div class="tr " style="left:1508.34px;top:402.63px;color:#dfe6ee">64</div>
<div class="tl b" style="left:1451.26px;width:41.58px;top:423.49px;color:#f0602c">297</div>
<div class="tr " style="left:1508.34px;top:423.49px;color:#dfe6ee">19</div>
<div class="tl b" style="left:1451.26px;width:41.58px;top:444.35px;color:#f0602c">148</div>
<div class="tr " style="left:1508.34px;top:444.35px;color:#dfe6ee">0</div>
<div class="hd" style="left:1441.04px;top:172.45px">V: 4 791</div>
<div class="hd" style="left:1441.04px;top:190.45px;color:#ee6430">D: -1 379</div>
<div class="a" style="left:1550.82px;top:318.09px;width:47.08px;height:19.20px;background:#078445"></div>
<div class="a" style="left:1603.30px;top:318.09px;width:47.08px;height:19.20px;background:#078445"></div>
<div class="a" style="left:1550.82px;top:338.95px;width:47.08px;height:19.20px;background:rgba(31,134,226,0.363)"></div>
<div class="a" style="left:1603.30px;top:338.95px;width:47.08px;height:19.20px;background:rgba(31,134,226,0.363)"></div>
<div class="a" style="left:1550.82px;top:359.81px;width:47.08px;height:20.86px;background:rgba(31,134,226,0.302)"></div>
<div class="a" style="left:1603.30px;top:359.81px;width:47.08px;height:20.86px;background:rgba(31,134,226,0.302)"></div>
<div class="a" style="left:1550.82px;top:380.67px;width:47.08px;height:19.20px;background:rgba(31,134,226,0.401)"></div>
<div class="a" style="left:1603.30px;top:380.67px;width:47.08px;height:19.20px;background:rgba(31,134,226,0.401)"></div>
<div class="a" style="left:1550.82px;top:401.53px;width:47.08px;height:19.20px;background:rgba(31,134,226,0.688)"></div>
<div class="a" style="left:1603.30px;top:401.53px;width:47.08px;height:19.20px;background:rgba(31,134,226,0.688)"></div>
<div class="a" style="left:1550.82px;top:443.25px;width:47.08px;height:20.86px;background:rgba(31,134,226,0.440)"></div>
<div class="a" style="left:1603.30px;top:443.25px;width:47.08px;height:20.86px;background:rgba(31,134,226,0.440)"></div>
<div class="a" style="left:1550.82px;top:464.11px;width:47.08px;height:19.20px;background:rgba(31,134,226,0.437)"></div>
<div class="a" style="left:1603.30px;top:464.11px;width:47.08px;height:19.20px;background:rgba(31,134,226,0.437)"></div>
<div class="a" style="left:1550.82px;top:484.97px;width:47.08px;height:19.20px;background:rgba(31,134,226,0.506)"></div>
<div class="a" style="left:1603.30px;top:484.97px;width:47.08px;height:19.20px;background:rgba(31,134,226,0.506)"></div>
<div class="a" style="left:1550.82px;top:505.83px;width:47.08px;height:19.20px;background:rgba(31,134,226,0.305)"></div>
<div class="a" style="left:1603.30px;top:505.83px;width:47.08px;height:19.20px;background:rgba(31,134,226,0.305)"></div>
<div class="a" style="left:1550.82px;top:526.69px;width:47.08px;height:19.20px;background:rgba(31,134,226,0.210)"></div>
<div class="a" style="left:1603.30px;top:526.69px;width:47.08px;height:19.20px;background:rgba(31,134,226,0.210)"></div>
<div class="a" style="left:1550.82px;top:422.39px;width:47.08px;height:21.60px;background:#8a881e;border:2px solid #e6de12;box-sizing:border-box"></div>
<div class="a" style="left:1603.30px;top:422.39px;width:47.08px;height:21.60px;background:#8a881e;border:2px solid #e6de12;box-sizing:border-box"></div>
<div class="a" style="left:1596.10px;top:328.29px;width:9.00px;height:145.42px;background:#3ad8b4"></div>
<div class="tl " style="left:1550.82px;width:41.58px;top:319.19px;color:#dfe6ee">58</div>
<div class="tr " style="left:1607.90px;top:319.19px;color:#dfe6ee">123</div>
<div class="tl " style="left:1550.82px;width:41.58px;top:340.05px;color:#dfe6ee">167</div>
<div class="tr " style="left:1607.90px;top:340.05px;color:#dfe6ee">160</div>
<div class="tl " style="left:1550.82px;width:41.58px;top:360.91px;color:#dfe6ee">92</div>
<div class="tr " style="left:1607.90px;top:360.91px;color:#dfe6ee">180</div>
<div class="tl " style="left:1550.82px;width:41.58px;top:381.77px;color:#dfe6ee">152</div>
<div class="tr " style="left:1607.90px;top:381.77px;color:#dfe6ee">210</div>
<div class="tl " style="left:1550.82px;width:41.58px;top:402.63px;color:#dfe6ee">221</div>
<div class="tr " style="left:1607.90px;top:402.63px;color:#dfe6ee">400</div>
<div class="tl " style="left:1550.82px;width:41.58px;top:423.49px;color:#1b1f17">440</div>
<div class="tr " style="left:1607.90px;top:423.49px;color:#1b1f17">462</div>
<div class="tl " style="left:1550.82px;width:41.58px;top:444.35px;color:#dfe6ee">233</div>
<div class="tr " style="left:1607.90px;top:444.35px;color:#dfe6ee">164</div>
<div class="tl " style="left:1550.82px;width:41.58px;top:465.21px;color:#dfe6ee">165</div>
<div class="tr " style="left:1607.90px;top:465.21px;color:#dfe6ee">229</div>
<div class="tl " style="left:1550.82px;width:41.58px;top:486.07px;color:#dfe6ee">286</div>
<div class="tr " style="left:1607.90px;top:486.07px;color:#dfe6ee">170</div>
<div class="tl " style="left:1550.82px;width:41.58px;top:506.93px;color:#dfe6ee">235</div>
<div class="tr " style="left:1607.90px;top:506.93px;color:#dfe6ee">40</div>
<div class="tl " style="left:1550.82px;width:41.58px;top:527.79px;color:#dfe6ee">27</div>
<div class="tr " style="left:1607.90px;top:527.79px;color:#dfe6ee">0</div>
<div class="hd" style="left:1540.60px;top:255.89px">V: 4 214</div>
<div class="hd" style="left:1540.60px;top:273.89px;color:#33d4a6">D: 62</div>
<div class="a" style="left:1650.38px;top:130.35px;width:47.08px;height:20.86px;background:#078445"></div>
<div class="a" style="left:1702.86px;top:130.35px;width:47.08px;height:20.86px;background:#078445"></div>
<div class="a" style="left:1650.38px;top:151.21px;width:47.08px;height:19.20px;background:rgba(31,134,226,0.300)"></div>
<div class="a" style="left:1702.86px;top:151.21px;width:47.08px;height:19.20px;background:rgba(31,134,226,0.300)"></div>
<div class="a" style="left:1650.38px;top:172.07px;width:47.08px;height:19.20px;background:rgba(31,134,226,0.509)"></div>
<div class="a" style="left:1702.86px;top:172.07px;width:47.08px;height:19.20px;background:rgba(31,134,226,0.509)"></div>
<div class="a" style="left:1650.38px;top:192.93px;width:47.08px;height:20.86px;background:rgba(31,134,226,0.839)"></div>
<div class="a" style="left:1702.86px;top:192.93px;width:47.08px;height:20.86px;background:rgba(31,134,226,0.839)"></div>
<div class="a" style="left:1650.38px;top:234.65px;width:47.08px;height:19.20px;background:rgba(31,134,226,0.373)"></div>
<div class="a" style="left:1702.86px;top:234.65px;width:47.08px;height:19.20px;background:rgba(31,134,226,0.373)"></div>
<div class="a" style="left:1650.38px;top:255.51px;width:47.08px;height:19.20px;background:rgba(31,134,226,0.210)"></div>
<div class="a" style="left:1702.86px;top:255.51px;width:47.08px;height:19.20px;background:rgba(31,134,226,0.210)"></div>
<div class="a" style="left:1650.38px;top:276.37px;width:47.08px;height:20.86px;background:rgba(31,134,226,0.210)"></div>
<div class="a" style="left:1702.86px;top:276.37px;width:47.08px;height:20.86px;background:rgba(31,134,226,0.210)"></div>
<div class="a" style="left:1650.38px;top:297.23px;width:47.08px;height:19.20px;background:rgba(31,134,226,0.210)"></div>
<div class="a" style="left:1702.86px;top:297.23px;width:47.08px;height:19.20px;background:rgba(31,134,226,0.210)"></div>
<div class="a" style="left:1650.38px;top:318.09px;width:47.08px;height:19.20px;background:rgba(31,134,226,0.217)"></div>
<div class="a" style="left:1702.86px;top:318.09px;width:47.08px;height:19.20px;background:rgba(31,134,226,0.217)"></div>
<div class="a" style="left:1650.38px;top:338.95px;width:47.08px;height:19.20px;background:rgba(31,134,226,0.210)"></div>
<div class="a" style="left:1702.86px;top:338.95px;width:47.08px;height:19.20px;background:rgba(31,134,226,0.210)"></div>
<div class="a" style="left:1650.38px;top:213.79px;width:47.08px;height:21.60px;background:#8a881e;border:2px solid #e6de12;box-sizing:border-box"></div>
<div class="a" style="left:1702.86px;top:213.79px;width:47.08px;height:21.60px;background:#8a881e;border:2px solid #e6de12;box-sizing:border-box"></div>
<div class="a" style="left:1695.66px;top:140.55px;width:9.00px;height:166.28px;background:#3ad8b4"></div>
<div class="tl " style="left:1650.38px;width:41.58px;top:131.45px;color:#dfe6ee">2</div>
<div class="tr " style="left:1707.46px;top:131.45px;color:#dfe6ee">109</div>
<div class="tl " style="left:1650.38px;width:41.58px;top:152.31px;color:#dfe6ee">155</div>
<div class="tr " style="left:1707.46px;top:152.31px;color:#dfe6ee">373</div>
<div class="tl " style="left:1650.38px;width:41.58px;top:173.17px;color:#dfe6ee">316</div>
<div class="tr " style="left:1707.46px;top:173.17px;color:#dfe6ee">579</div>
<div class="tl " style="left:1650.38px;width:41.58px;top:194.03px;color:#dfe6ee">567</div>
<div class="tr " style="left:1707.46px;top:194.03px;color:#dfe6ee">909</div>
<div class="tl " style="left:1650.38px;width:41.58px;top:214.89px;color:#1b1f17">758</div>
<div class="tr " style="left:1707.46px;top:214.89px;color:#1b1f17">1 001</div>
<div class="tl " style="left:1650.38px;width:41.58px;top:235.75px;color:#dfe6ee">385</div>
<div class="tr " style="left:1707.46px;top:235.75px;color:#dfe6ee">271</div>
<div class="tl " style="left:1650.38px;width:41.58px;top:256.61px;color:#dfe6ee">157</div>
<div class="tr " style="left:1707.46px;top:256.61px;color:#dfe6ee">140</div>
<div class="tl " style="left:1650.38px;width:41.58px;top:277.47px;color:#dfe6ee">80</div>
<div class="tr b" style="left:1707.46px;top:277.47px;color:#33d4a6">155</div>
<div class="tl " style="left:1650.38px;width:41.58px;top:298.33px;color:#dfe6ee">39</div>
<div class="tr " style="left:1707.46px;top:298.33px;color:#dfe6ee">134</div>
<div class="tl " style="left:1650.38px;width:41.58px;top:319.19px;color:#dfe6ee">215</div>
<div class="tr b" style="left:1707.46px;top:319.19px;color:#33d4a6">166</div>
<div class="tl " style="left:1650.38px;width:41.58px;top:340.05px;color:#dfe6ee">20</div>
<div class="tr " style="left:1707.46px;top:340.05px;color:#dfe6ee">0</div>
<div class="hd" style="left:1640.16px;top:68.15px">V: 6 531</div>
<div class="hd" style="left:1640.16px;top:86.15px;color:#33d4a6">D: 1 143</div>
</div>
<div id="paxis">
<div class="a" style="left:0.3px;top:0;width:1px;height:997px;background:rgba(255,255,255,0.025)"></div>
<div class="pl" style="top:28.55px">4 150,00</div><div class="a" style="left:0;top:37.35px;width:7px;height:1px;background:rgba(255,255,255,0.03)"></div><div class="pl" style="top:70.27px">4 149,50</div><div class="a" style="left:0;top:79.07px;width:7px;height:1px;background:rgba(255,255,255,0.03)"></div><div class="pl" style="top:111.99px">4 149,00</div><div class="a" style="left:0;top:120.79px;width:7px;height:1px;background:rgba(255,255,255,0.03)"></div><div class="pl" style="top:153.71px">4 148,50</div><div class="a" style="left:0;top:162.51px;width:7px;height:1px;background:rgba(255,255,255,0.03)"></div><div class="pl" style="top:195.43px">4 148,00</div><div class="a" style="left:0;top:204.23px;width:7px;height:1px;background:rgba(255,255,255,0.03)"></div><div class="pl" style="top:237.15px">4 147,50</div><div class="a" style="left:0;top:245.95px;width:7px;height:1px;background:rgba(255,255,255,0.03)"></div><div class="pl" style="top:278.87px">4 147,00</div><div class="a" style="left:0;top:287.67px;width:7px;height:1px;background:rgba(255,255,255,0.03)"></div><div class="pl" style="top:320.59px">4 146,50</div><div class="a" style="left:0;top:329.39px;width:7px;height:1px;background:rgba(255,255,255,0.03)"></div><div class="pl" style="top:362.31px">4 146,00</div><div class="a" style="left:0;top:371.11px;width:7px;height:1px;background:rgba(255,255,255,0.03)"></div><div class="pl" style="top:404.03px">4 145,50</div><div class="a" style="left:0;top:412.83px;width:7px;height:1px;background:rgba(255,255,255,0.03)"></div><div class="pl" style="top:445.75px">4 145,00</div><div class="a" style="left:0;top:454.55px;width:7px;height:1px;background:rgba(255,255,255,0.03)"></div><div class="pl" style="top:487.47px">4 144,50</div><div class="a" style="left:0;top:496.27px;width:7px;height:1px;background:rgba(255,255,255,0.03)"></div><div class="pl" style="top:529.19px">4 144,00</div><div class="a" style="left:0;top:537.99px;width:7px;height:1px;background:rgba(255,255,255,0.03)"></div><div class="pl" style="top:570.91px">4 143,50</div><div class="a" style="left:0;top:579.71px;width:7px;height:1px;background:rgba(255,255,255,0.03)"></div><div class="pl" style="top:612.63px">4 143,00</div><div class="a" style="left:0;top:621.43px;width:7px;height:1px;background:rgba(255,255,255,0.03)"></div><div class="pl" style="top:654.35px">4 142,50</div><div class="a" style="left:0;top:663.15px;width:7px;height:1px;background:rgba(255,255,255,0.03)"></div><div class="pl" style="top:696.07px">4 142,00</div><div class="a" style="left:0;top:704.87px;width:7px;height:1px;background:rgba(255,255,255,0.03)"></div><div class="pl" style="top:737.79px">4 141,50</div><div class="a" style="left:0;top:746.59px;width:7px;height:1px;background:rgba(255,255,255,0.03)"></div><div class="pl" style="top:779.51px">4 141,00</div><div class="a" style="left:0;top:788.31px;width:7px;height:1px;background:rgba(255,255,255,0.03)"></div><div class="pl" style="top:821.23px">4 140,50</div><div class="a" style="left:0;top:830.03px;width:7px;height:1px;background:rgba(255,255,255,0.03)"></div><div class="pl" style="top:862.95px">4 140,00</div><div class="a" style="left:0;top:871.75px;width:7px;height:1px;background:rgba(255,255,255,0.03)"></div><div class="pl" style="top:904.67px">4 139,50</div><div class="a" style="left:0;top:913.47px;width:7px;height:1px;background:rgba(255,255,255,0.03)"></div><div class="pl" style="top:946.39px">4 139,00</div><div class="a" style="left:0;top:955.19px;width:7px;height:1px;background:rgba(255,255,255,0.03)"></div><div class="pl" style="top:988.11px">4 138,50</div><div class="a" style="left:0;top:996.91px;width:7px;height:1px;background:rgba(255,255,255,0.03)"></div>
<div style="position:absolute;left:0;top:0;width:108px;height:37px;background:#222932;z-index:2"></div>
<div style="position:absolute;left:0;top:0;width:108px;height:37px;line-height:37px;text-align:center;color:#c8d0da;font-size:16px;z-index:3;letter-spacing:1.6px;text-indent:1.6px">VIEW</div>
</div>
<div class="abs" style="left:1808px;top:1029px;width:108px;height:51px;background:#151d27"></div>
<div id="taxis">
<div style="position:absolute;left:0;top:3.5px;width:1749px;height:1px;background:rgba(255,255,255,0.035)"></div>
<div class="a" style="left:7.14px;top:0;width:1px;height:10px;background:rgba(255,255,255,0.03)"></div><div class="a" style="left:106.70px;top:0;width:1px;height:10px;background:rgba(255,255,255,0.03)"></div><div class="a" style="left:206.26px;top:0;width:1px;height:10px;background:rgba(255,255,255,0.03)"></div><div class="a" style="left:305.82px;top:0;width:1px;height:10px;background:rgba(255,255,255,0.03)"></div><div class="a" style="left:405.38px;top:0;width:1px;height:10px;background:rgba(255,255,255,0.03)"></div><div class="a" style="left:504.94px;top:0;width:1px;height:10px;background:rgba(255,255,255,0.03)"></div><div class="a" style="left:604.50px;top:0;width:1px;height:10px;background:rgba(255,255,255,0.03)"></div><div class="a" style="left:704.06px;top:0;width:1px;height:10px;background:rgba(255,255,255,0.03)"></div><div class="a" style="left:803.62px;top:0;width:1px;height:10px;background:rgba(255,255,255,0.03)"></div><div class="a" style="left:903.18px;top:0;width:1px;height:10px;background:rgba(255,255,255,0.03)"></div><div class="a" style="left:1002.74px;top:0;width:1px;height:10px;background:rgba(255,255,255,0.03)"></div><div class="a" style="left:1102.30px;top:0;width:1px;height:10px;background:rgba(255,255,255,0.03)"></div><div class="a" style="left:1201.86px;top:0;width:1px;height:10px;background:rgba(255,255,255,0.03)"></div><div class="a" style="left:1301.42px;top:0;width:1px;height:10px;background:rgba(255,255,255,0.03)"></div><div class="a" style="left:1400.98px;top:0;width:1px;height:10px;background:rgba(255,255,255,0.03)"></div><div class="a" style="left:1500.54px;top:0;width:1px;height:10px;background:rgba(255,255,255,0.03)"></div><div class="a" style="left:1600.10px;top:0;width:1px;height:10px;background:rgba(255,255,255,0.03)"></div><div class="a" style="left:1699.66px;top:0;width:1px;height:10px;background:rgba(255,255,255,0.03)"></div>
<div class="tm" style="left:27.20px">21:42:20:357</div><div class="tm" style="left:226.32px">21:45:34:043</div><div class="tm" style="left:425.44px">21:48:11:220</div><div class="tm" style="left:624.56px">21:54:02:044</div><div class="tm" style="left:823.68px">21:59:14:719</div><div class="tm" style="left:1022.80px">22:05:12:194</div><div class="tm" style="left:1221.92px">22:07:43:999</div><div class="tm" style="left:1421.04px">22:14:11:276</div><div class="tm" style="left:1620.16px">22:16:26:457</div>
</div>
<div class="abs" style="left:6px;top:31.3px;width:53px;height:2px;background:#13181e"></div><div class="abs" style="left:6px;top:220.0px;width:53px;height:2px;background:#13181e"></div><div class="abs" style="left:6px;top:817.0px;width:53px;height:2px;background:#13181e"></div><div class="abs" style="left:6px;top:916.5px;width:53px;height:2px;background:#13181e"></div><div class="abs" style="left:6px;top:971.5px;width:53px;height:2px;background:#13181e"></div><div class="abs" style="left:6px;top:1026.5px;width:53px;height:2px;background:#13181e"></div><div class="btn" style="top:43.0px"><svg width="32" height="32" style="position:absolute;left:0;top:0"><g fill="#c0cad8"><rect x="7" y="18" width="3.5" height="9"/><rect x="13.5" y="13" width="3.5" height="14"/><rect x="20.5" y="8" width="3.5" height="19"/></g><polyline points="7,16 12,16 13.5,11 19,11 20.5,6 25,6" fill="none" stroke="#c0cad8" stroke-width="1.3"/></svg></div><div class="btn" style="top:87.0px"><svg width="32" height="32" style="position:absolute;left:0;top:0"><g fill="#c0cad8"><polygon points="16,6 27,12 16,18 5,12"/><polygon points="5,16 8,14.5 16,19 24,14.5 27,16 16,22"/></g></svg></div><div class="btn" style="top:131.0px"><svg width="32" height="32" style="position:absolute;left:0;top:0"><g fill="#c0cad8"><path d="M16,5 C17,5 17,6 17,6.5 C21,7.5 22,11 22,15 L22,20 L24,23 L8,23 L10,20 L10,15 C10,11 11,7.5 15,6.5 C15,6 15,5 16,5 Z"/><rect x="13.5" y="25" width="5" height="1.8" rx="0.9"/></g></svg></div><div class="btn" style="top:176.0px"><svg width="32" height="32" style="position:absolute;left:0;top:0"><g fill="none" stroke="#c0cad8" stroke-width="1.5"><polyline points="6,11 6,6 11,6"/><polyline points="26,21 26,26 21,26"/></g><polygon points="9,24 10,19 20,9 23,12 13,22" fill="#c0cad8"/></svg></div><div class="btn" style="top:231.0px"><svg width="32" height="32" style="position:absolute;left:0;top:0"><line x1="4" y1="16" x2="28" y2="16" stroke="#c0cad8" stroke-width="1.6"/><circle cx="16" cy="16" r="3.5" fill="#c0cad8"/></svg></div><div class="btn" style="top:276.0px"><svg width="32" height="32" style="position:absolute;left:0;top:0"><line x1="8" y1="24" x2="24" y2="8" stroke="#c0cad8" stroke-width="1.5"/><rect x="5.5" y="21.5" width="5" height="5" fill="#c0cad8"/><rect x="21.5" y="5.5" width="5" height="5" fill="#c0cad8"/></svg></div><div class="btn" style="top:320.0px"><svg width="32" height="32" style="position:absolute;left:0;top:0"><rect x="7" y="8" width="18" height="16" fill="none" stroke="#c0cad8" stroke-width="1.5"/><g fill="#c0cad8"><circle cx="7" cy="8" r="2.3"/><circle cx="25" cy="8" r="2.3"/><circle cx="7" cy="24" r="2.3"/><circle cx="25" cy="24" r="2.3"/></g></svg></div><div class="btn" style="top:364.0px"><svg width="32" height="32" style="position:absolute;left:0;top:0"><g stroke="#c0cad8" stroke-width="1.5"><line x1="5" y1="19" x2="19" y2="5"/><line x1="12" y1="26" x2="26" y2="12"/></g><g fill="#c0cad8"><circle cx="12" cy="12" r="2.5"/><circle cx="19" cy="19" r="2.5"/></g></svg></div><div class="btn" style="top:409.0px"><svg width="32" height="32" style="position:absolute;left:0;top:0"><g fill="#c0cad8"><rect x="6" y="5" width="3.5" height="3.5"/><rect x="6" y="23" width="3.5" height="3.5"/><rect x="7" y="7" width="1.5" height="17"/><rect x="11" y="7" width="14" height="1.5"/><rect x="11" y="13" width="4" height="1.5"/><rect x="11" y="18" width="4" height="1.5"/><rect x="11" y="23" width="4" height="1.5"/><rect x="16.5" y="12" width="9" height="14"/></g><rect x="19" y="14.5" width="4" height="9" fill="#222830"/><rect x="21" y="14.5" width="2.5" height="2" fill="#c0cad8"/><rect x="21" y="18" width="2" height="1.5" fill="#c0cad8"/></svg></div><div class="btn" style="top:828.6px"><svg width="32" height="32" style="position:absolute;left:0;top:0"><path d="M7,14 L12,9 M7,14 L12,19 M7,14 L18,14 C22,14 24,17 24,21" fill="none" stroke="#c0cad8" stroke-width="1.5"/></svg></div><div class="btn" style="top:873.0px"><svg width="32" height="32" style="position:absolute;left:0;top:0"><path d="M25,14 L20,9 M25,14 L20,19 M25,14 L14,14 C10,14 8,17 8,21" fill="none" stroke="#363e48" stroke-width="1.8"/></svg></div><div class="btn" style="top:927.5px"><svg width="32" height="32" style="position:absolute;left:0;top:0"><path d="M4,16 C8,9 24,9 28,16 C24,23 8,23 4,16 Z" fill="none" stroke="#363e48" stroke-width="1.6"/><circle cx="16" cy="15.5" r="4.5" fill="#363e48"/></svg></div><div class="btn" style="top:982.0px"><svg width="32" height="32" style="position:absolute;left:0;top:0"><g fill="none" stroke="#363e48" stroke-width="1.5"><path d="M9,10 L10,26 L22,26 L23,10"/><line x1="7" y1="9" x2="25" y2="9"/><rect x="13" y="6" width="6" height="3"/><line x1="13.5" y1="13" x2="13.5" y2="23"/><line x1="18.5" y1="13" x2="18.5" y2="23"/></g></svg></div><div class="btn" style="top:1037.5px"><svg width="32" height="32" style="position:absolute;left:0;top:0"><g fill="#c0cad8"><rect x="8" y="9" width="3" height="3"/><rect x="8" y="15" width="3" height="3"/><rect x="8" y="21" width="3" height="3"/><rect x="13" y="9" width="12" height="3"/><rect x="13" y="15" width="12" height="3"/><rect x="13" y="21" width="12" height="3"/></g></svg></div>

<div class="abs" style="left:14px;top:-4px;width:36px;height:26.5px;background:#005670;border-radius:3px"></div>
<svg class="abs" style="left:14px;top:0" width="36" height="22"><rect x="6.8" y="-4" width="7.2" height="19.6" fill="#f4f8fa"/><rect x="26" y="-4" width="3.3" height="19.6" fill="#d8e4ec"/><rect x="6.8" y="13.6" width="22.5" height="2" fill="#f4f8fa"/></svg>
<div class="abs" style="left:59px;top:-4px;width:346px;height:25.5px;background:#151c23;border:1px solid #10151a;box-sizing:border-box;border-radius:3px"></div>
<div class="abs" style="left:70px;top:-4.4px;font-size:17px;line-height:20px;color:#dfe6ee;font-weight:bold">ESM3</div>
<div class="abs" style="left:125px;top:-4px;font-size:16px;line-height:20px;color:#7d8894">Rithmic</div>
<div class="abs" style="left:386px;top:4px;width:3px;height:3px;background:#c0cad8"></div>
<div class="abs" style="left:386px;top:10px;width:3px;height:3px;background:#c0cad8"></div>
<div class="abs" style="left:415px;top:-4px;width:256px;height:26px;background:#242a33;border:1px solid #161b21;box-sizing:border-box;border-radius:3px"></div>
<div class="abs" style="left:427px;top:-6.2px;font-size:20px;line-height:22px;color:#c8d0da;white-space:nowrap;letter-spacing:0.6px">Range bars - 10ticks</div>
<svg class="abs" style="left:640px;top:0" width="22" height="12"><polyline points="1,-1 11,9 21,-1" fill="none" stroke="#9aa5b1" stroke-width="1.5"/></svg><div class="abs" style="left:682px;top:-4px;width:167px;height:26px;background:#242a33;border:1px solid #161b21;box-sizing:border-box;border-radius:3px"></div>
<div class="abs" style="left:694px;top:-6.2px;font-size:20px;line-height:22px;color:#c8d0da;white-space:nowrap;letter-spacing:0.6px">1 day</div>
<svg class="abs" style="left:817px;top:0" width="22" height="12"><polyline points="1,-1 11,9 21,-1" fill="none" stroke="#9aa5b1" stroke-width="1.5"/></svg><div class="abs" style="left:859px;top:-4px;width:167px;height:26px;background:#242a33;border:1px solid #161b21;box-sizing:border-box;border-radius:3px"></div>
<div class="abs" style="left:871px;top:-6.2px;font-size:20px;line-height:22px;color:#c8d0da;white-space:nowrap;letter-spacing:0.6px">Candle</div>
<svg class="abs" style="left:996px;top:0" width="22" height="12"><polyline points="1,-1 11,9 21,-1" fill="none" stroke="#9aa5b1" stroke-width="1.5"/></svg><div class="abs" style="left:1671px;top:-4px;width:36px;height:26px;background:#005670;border:none;box-sizing:border-box;border-radius:3px"></div><svg class="abs" style="left:1671px;top:0" width="36" height="22"><circle cx="18" cy="5" r="8.5" fill="none" stroke="#e6eef4" stroke-width="1.6"/><line x1="11.5" y1="11.5" x2="6" y2="16" stroke="#e6eef4" stroke-width="2.2"/><g fill="#e6eef4"><rect x="13" y="2" width="1.6" height="6"/><rect x="16" y="-2" width="1.6" height="10"/><rect x="19" y="0" width="1.6" height="8"/><rect x="22" y="2" width="1.6" height="5"/></g></svg><div class="abs" style="left:1716px;top:0;width:1px;height:21px;background:#13181e"></div><div class="abs" style="left:1727px;top:-4px;width:34px;height:26px;background:#222830;border:1px solid #161b21;box-sizing:border-box;border-radius:3px"></div><svg class="abs" style="left:1727px;top:0" width="34" height="22"><rect x="3" y="-3" width="27" height="20.5" fill="#c0cad8"/><g fill="#222830"><rect x="6" y="-3" width="1.2" height="17"/><rect x="6" y="5.5" width="24" height="1.2"/><rect x="6" y="13" width="24" height="1.2"/><rect x="17.5" y="-3" width="1.2" height="9"/><rect x="24.5" y="-3" width="1.2" height="9"/><rect x="22" y="6" width="1.2" height="7.5"/></g></svg><div class="abs" style="left:1771px;top:-4px;width:34px;height:26px;background:#222830;border:1px solid #161b21;box-sizing:border-box;border-radius:3px"></div><svg class="abs" style="left:1771px;top:0" width="34" height="22"><path d="M10,0 L10,10 C10,16 24,16 24,10 L24,0 Z" fill="#c0cad8"/><line x1="17" y1="-2" x2="17" y2="3" stroke="#222830" stroke-width="1.5"/><line x1="10" y1="2.5" x2="24" y2="2.5" stroke="#222830" stroke-width="1.2"/></svg><div class="abs" style="left:1816px;top:-4px;width:34px;height:26px;background:#222830;border:1px solid #161b21;box-sizing:border-box;border-radius:3px"></div><svg class="abs" style="left:1816px;top:0" width="34" height="22"><g fill="#c0cad8"><rect x="7" y="0" width="20" height="12"/></g><rect x="15.5" y="1" width="3" height="11" fill="#222830"/><rect x="13" y="-2" width="8" height="3" fill="#c0cad8"/></svg><div class="abs" style="left:1860px;top:0;width:1px;height:21px;background:#13181e"></div><div class="abs" style="left:1871px;top:-4px;width:34px;height:26px;background:#222830;border:1px solid #161b21;box-sizing:border-box;border-radius:3px"></div><svg class="abs" style="left:1871px;top:0" width="34" height="22"><rect x="8.5" y="-3" width="17" height="18" fill="#c0cad8"/><rect x="11" y="-3" width="11.5" height="16" fill="#222830"/></svg>
<div class="abs" style="left:1731px;top:995px;font-size:22px;line-height:24px;font-weight:bold;color:#eef2f6;letter-spacing:1px">3t</div>
<svg class="abs" style="left:1768px;top:996px" width="26" height="24"><line x1="3" y1="11" x2="19" y2="11" stroke="#9aa3ad" stroke-width="2.5"/><polyline points="13,5 19.5,11 13,17" fill="none" stroke="#9aa3ad" stroke-width="2.5"/><line x1="23.5" y1="1" x2="23.5" y2="22" stroke="#9aa3ad" stroke-width="1.5"/></svg>
<svg class="abs" style="left:1764px;top:954px" width="30" height="28"><line x1="3" y1="1.5" x2="29" y2="1.5" stroke="#7fa9a3" stroke-width="1.5"/><line x1="3" y1="25" x2="29" y2="25" stroke="#9aa3ad" stroke-width="1.5"/><g fill="#7fb8ac"><rect x="3.5" y="10" width="2" height="7"/><rect x="8" y="8" width="2" height="5"/><rect x="12.5" y="9" width="2" height="9"/><rect x="17" y="9" width="2" height="13"/><rect x="21.5" y="7" width="2" height="9"/><rect x="26" y="6" width="2" height="10"/></g></svg>
<div class="abs" style="left:1840px;top:1055px;width:22px;height:1.5px;background:#8f9aa5"></div>
<div class="abs" style="left:1883px;top:1055px;width:20px;height:1.5px;background:#8f9aa5"></div>
<div class="abs" style="left:1892px;top:1046px;width:1.5px;height:20px;background:#8f9aa5"></div>
<div class="abs" style="left:1212px;top:1074px;width:95px;height:9px;background:#6e767f;border-radius:4px"></div>

<div class="il" style="left:74px">B:</div><div class="iv" style="left:101px">0</div><div class="il" style="left:150px">D:</div><div class="iv" style="left:179px">11.05.2023</div><div class="il" style="left:308px">T:</div><div class="iv" style="left:335px">14:15:27</div><div class="il" style="left:443px">O:</div><div class="iv" style="left:473px">4 152,50</div><div class="il" style="left:578px">H:</div><div class="iv" style="left:606px">4 152,50</div><div class="il" style="left:712px">L:</div><div class="iv" style="left:736px">4 150,25</div><div class="il" style="left:841px">C:</div><div class="iv" style="left:869px">4 150,75</div><div class="il" style="left:975px">Ch:</div><div class="iv" style="left:1015px">-0,05</div><div class="il" style="left:1086px">Tk:</div><div class="iv" style="left:1123px">803</div><div class="il" style="left:1211px">V:</div><div class="iv" style="left:1240px">1 353</div><div class="il" style="left:1327px">QV:</div><div class="iv" style="left:1369px">N/A</div><div class="il" style="left:1426px">Oi:</div><div class="iv" style="left:1460px;letter-spacing:3px">---</div><div class="il" style="left:1509px">Fr:</div><div class="iv" style="left:1541px;letter-spacing:3px">---</div>
</body></html>
